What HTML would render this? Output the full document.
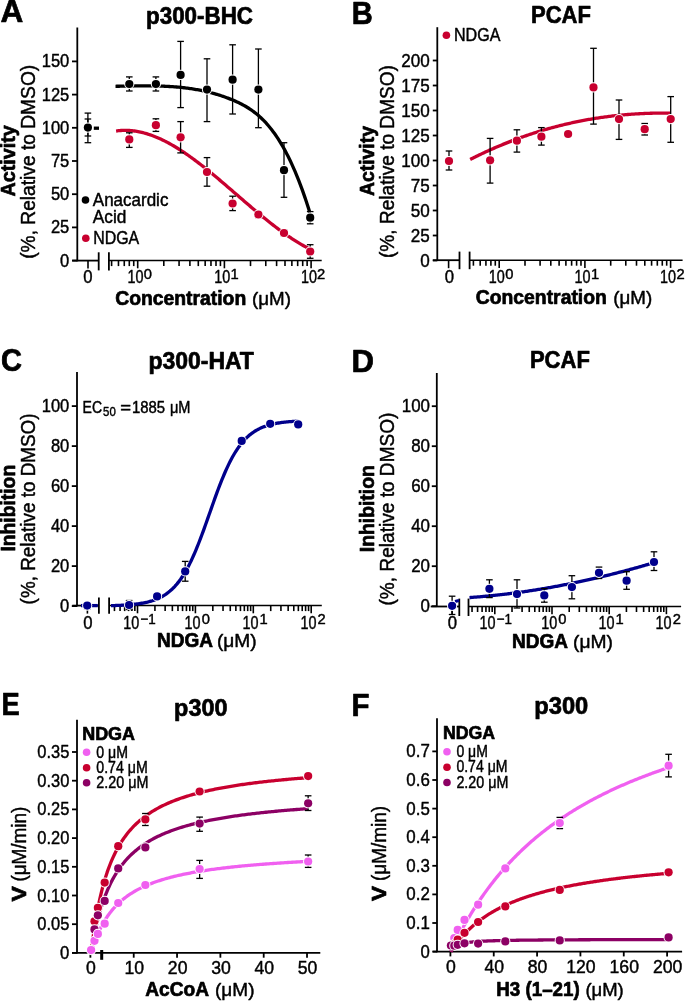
<!DOCTYPE html><html><head><meta charset="utf-8"><style>html,body{margin:0;padding:0;background:#fff;width:685px;height:1001px;overflow:hidden}svg{display:block;will-change:transform}text{font-family:"Liberation Sans",sans-serif}</style></head><body>
<svg width="685" height="1001" viewBox="0 0 685 1001">
<rect width="685" height="1001" fill="#fff"/>
<text x="0.60" y="22.00" font-size="30.5" font-weight="bold" textLength="22.80" lengthAdjust="spacingAndGlyphs" stroke="#000" stroke-width="0.7" stroke-linejoin="round">A</text>
<text x="146.00" y="24.10" font-size="24" font-weight="bold" textLength="107.00" lengthAdjust="spacingAndGlyphs" stroke="#000" stroke-width="0.7" stroke-linejoin="round">p300-BHC</text>
<line x1="77.30" y1="27.50" x2="77.30" y2="261.30" stroke="#000" stroke-width="1.8" stroke-linecap="butt"/>
<line x1="72.00" y1="260.60" x2="77.30" y2="260.60" stroke="#000" stroke-width="1.8" stroke-linecap="butt"/>
<text x="69.30" y="266.60" font-size="19" text-anchor="end" textLength="9.20" lengthAdjust="spacingAndGlyphs" stroke="#000" stroke-width="0.45" stroke-linejoin="round">0</text>
<line x1="72.00" y1="227.40" x2="77.30" y2="227.40" stroke="#000" stroke-width="1.8" stroke-linecap="butt"/>
<text x="69.30" y="233.40" font-size="19" text-anchor="end" textLength="18.40" lengthAdjust="spacingAndGlyphs" stroke="#000" stroke-width="0.45" stroke-linejoin="round">25</text>
<line x1="72.00" y1="194.20" x2="77.30" y2="194.20" stroke="#000" stroke-width="1.8" stroke-linecap="butt"/>
<text x="69.30" y="200.20" font-size="19" text-anchor="end" textLength="18.40" lengthAdjust="spacingAndGlyphs" stroke="#000" stroke-width="0.45" stroke-linejoin="round">50</text>
<line x1="72.00" y1="161.00" x2="77.30" y2="161.00" stroke="#000" stroke-width="1.8" stroke-linecap="butt"/>
<text x="69.30" y="167.00" font-size="19" text-anchor="end" textLength="18.40" lengthAdjust="spacingAndGlyphs" stroke="#000" stroke-width="0.45" stroke-linejoin="round">75</text>
<line x1="72.00" y1="127.80" x2="77.30" y2="127.80" stroke="#000" stroke-width="1.8" stroke-linecap="butt"/>
<text x="69.30" y="133.80" font-size="19" text-anchor="end" textLength="27.60" lengthAdjust="spacingAndGlyphs" stroke="#000" stroke-width="0.45" stroke-linejoin="round">100</text>
<line x1="72.00" y1="94.60" x2="77.30" y2="94.60" stroke="#000" stroke-width="1.8" stroke-linecap="butt"/>
<text x="69.30" y="100.60" font-size="19" text-anchor="end" textLength="27.60" lengthAdjust="spacingAndGlyphs" stroke="#000" stroke-width="0.45" stroke-linejoin="round">125</text>
<line x1="72.00" y1="61.40" x2="77.30" y2="61.40" stroke="#000" stroke-width="1.8" stroke-linecap="butt"/>
<text x="69.30" y="67.40" font-size="19" text-anchor="end" textLength="27.60" lengthAdjust="spacingAndGlyphs" stroke="#000" stroke-width="0.45" stroke-linejoin="round">150</text>
<text x="14.80" y="196.40" font-size="20" font-weight="bold" textLength="71.20" lengthAdjust="spacingAndGlyphs" transform="rotate(-90 14.80 196.40)" stroke="#000" stroke-width="0.7" stroke-linejoin="round">Activity</text>
<text x="34.60" y="258.80" font-size="19.5" textLength="194.00" lengthAdjust="spacingAndGlyphs" transform="rotate(-90 34.60 258.80)" stroke="#000" stroke-width="0.45" stroke-linejoin="round">(%, Relative to DMSO)</text>
<line x1="72.30" y1="260.60" x2="98.90" y2="260.60" stroke="#000" stroke-width="1.8" stroke-linecap="butt"/>
<line x1="98.70" y1="252.30" x2="98.70" y2="270.40" stroke="#000" stroke-width="1.8" stroke-linecap="butt"/>
<line x1="108.90" y1="252.30" x2="108.90" y2="270.40" stroke="#000" stroke-width="1.8" stroke-linecap="butt"/>
<line x1="109.00" y1="260.60" x2="321.70" y2="260.60" stroke="#000" stroke-width="1.5" stroke-linecap="butt"/>
<line x1="111.60" y1="260.60" x2="111.60" y2="266.10" stroke="#000" stroke-width="1.6" stroke-linecap="butt"/>
<line x1="118.47" y1="260.60" x2="118.47" y2="266.10" stroke="#000" stroke-width="1.6" stroke-linecap="butt"/>
<line x1="124.27" y1="260.60" x2="124.27" y2="266.10" stroke="#000" stroke-width="1.6" stroke-linecap="butt"/>
<line x1="129.30" y1="260.60" x2="129.30" y2="266.10" stroke="#000" stroke-width="1.6" stroke-linecap="butt"/>
<line x1="133.73" y1="260.60" x2="133.73" y2="266.10" stroke="#000" stroke-width="1.6" stroke-linecap="butt"/>
<line x1="137.70" y1="260.60" x2="137.70" y2="268.30" stroke="#000" stroke-width="1.6" stroke-linecap="butt"/>
<line x1="163.80" y1="260.60" x2="163.80" y2="266.10" stroke="#000" stroke-width="1.6" stroke-linecap="butt"/>
<line x1="179.07" y1="260.60" x2="179.07" y2="266.10" stroke="#000" stroke-width="1.6" stroke-linecap="butt"/>
<line x1="189.90" y1="260.60" x2="189.90" y2="266.10" stroke="#000" stroke-width="1.6" stroke-linecap="butt"/>
<line x1="198.30" y1="260.60" x2="198.30" y2="266.10" stroke="#000" stroke-width="1.6" stroke-linecap="butt"/>
<line x1="205.17" y1="260.60" x2="205.17" y2="266.10" stroke="#000" stroke-width="1.6" stroke-linecap="butt"/>
<line x1="210.97" y1="260.60" x2="210.97" y2="266.10" stroke="#000" stroke-width="1.6" stroke-linecap="butt"/>
<line x1="216.00" y1="260.60" x2="216.00" y2="266.10" stroke="#000" stroke-width="1.6" stroke-linecap="butt"/>
<line x1="220.43" y1="260.60" x2="220.43" y2="266.10" stroke="#000" stroke-width="1.6" stroke-linecap="butt"/>
<line x1="224.40" y1="260.60" x2="224.40" y2="268.30" stroke="#000" stroke-width="1.6" stroke-linecap="butt"/>
<line x1="250.50" y1="260.60" x2="250.50" y2="266.10" stroke="#000" stroke-width="1.6" stroke-linecap="butt"/>
<line x1="265.77" y1="260.60" x2="265.77" y2="266.10" stroke="#000" stroke-width="1.6" stroke-linecap="butt"/>
<line x1="276.60" y1="260.60" x2="276.60" y2="266.10" stroke="#000" stroke-width="1.6" stroke-linecap="butt"/>
<line x1="285.00" y1="260.60" x2="285.00" y2="266.10" stroke="#000" stroke-width="1.6" stroke-linecap="butt"/>
<line x1="291.87" y1="260.60" x2="291.87" y2="266.10" stroke="#000" stroke-width="1.6" stroke-linecap="butt"/>
<line x1="297.67" y1="260.60" x2="297.67" y2="266.10" stroke="#000" stroke-width="1.6" stroke-linecap="butt"/>
<line x1="302.70" y1="260.60" x2="302.70" y2="266.10" stroke="#000" stroke-width="1.6" stroke-linecap="butt"/>
<line x1="307.13" y1="260.60" x2="307.13" y2="266.10" stroke="#000" stroke-width="1.6" stroke-linecap="butt"/>
<line x1="311.10" y1="260.60" x2="311.10" y2="268.30" stroke="#000" stroke-width="1.6" stroke-linecap="butt"/>
<line x1="88.00" y1="260.60" x2="88.00" y2="268.60" stroke="#000" stroke-width="1.6" stroke-linecap="butt"/>
<text x="88.00" y="283.00" font-size="19" text-anchor="middle" textLength="9.30" lengthAdjust="spacingAndGlyphs" stroke="#000" stroke-width="0.45" stroke-linejoin="round">0</text>
<text x="127.50" y="283.40" font-size="19" textLength="16.00" lengthAdjust="spacingAndGlyphs" stroke="#000" stroke-width="0.45" stroke-linejoin="round">10</text>
<text x="143.70" y="279.00" font-size="15" textLength="8.20" lengthAdjust="spacingAndGlyphs" stroke="#000" stroke-width="0.45" stroke-linejoin="round">0</text>
<text x="214.20" y="283.40" font-size="19" textLength="16.00" lengthAdjust="spacingAndGlyphs" stroke="#000" stroke-width="0.45" stroke-linejoin="round">10</text>
<text x="230.40" y="279.00" font-size="15" textLength="8.20" lengthAdjust="spacingAndGlyphs" stroke="#000" stroke-width="0.45" stroke-linejoin="round">1</text>
<text x="300.90" y="283.40" font-size="19" textLength="16.00" lengthAdjust="spacingAndGlyphs" stroke="#000" stroke-width="0.45" stroke-linejoin="round">10</text>
<text x="317.10" y="279.00" font-size="15" textLength="8.20" lengthAdjust="spacingAndGlyphs" stroke="#000" stroke-width="0.45" stroke-linejoin="round">2</text>
<text x="115.20" y="305.00" font-size="19.5" font-weight="bold" textLength="131.00" lengthAdjust="spacingAndGlyphs" stroke="#000" stroke-width="0.7" stroke-linejoin="round">Concentration</text>
<text x="252.00" y="305.00" font-size="18.5" textLength="39.00" lengthAdjust="spacingAndGlyphs" stroke="#000" stroke-width="0.45" stroke-linejoin="round">(μM)</text>
<circle cx="85.50" cy="200.00" r="3.80" fill="#000"/>
<text x="92.80" y="206.20" font-size="17.5" textLength="75.60" lengthAdjust="spacingAndGlyphs" stroke="#000" stroke-width="0.45" stroke-linejoin="round">Anacardic</text>
<text x="92.80" y="222.70" font-size="17.5" textLength="33.60" lengthAdjust="spacingAndGlyphs" stroke="#000" stroke-width="0.45" stroke-linejoin="round">Acid</text>
<circle cx="85.80" cy="238.20" r="3.80" fill="#C8002F"/>
<text x="93.20" y="244.10" font-size="17.5" textLength="46.00" lengthAdjust="spacingAndGlyphs" stroke="#000" stroke-width="0.45" stroke-linejoin="round">NDGA</text>
<line x1="93.80" y1="128.20" x2="99.00" y2="128.20" stroke="#000" stroke-width="3.3" stroke-linecap="butt"/>
<path d="M116.10,131.02 L117.32,130.86 L118.54,130.71 L119.76,130.60 L120.98,130.50 L122.20,130.44 L123.42,130.39 L124.64,130.37 L125.86,130.37 L127.08,130.39 L128.30,130.44 L129.52,130.51 L130.74,130.60 L131.96,130.71 L133.18,130.85 L134.40,131.01 L135.62,131.18 L136.84,131.38 L138.06,131.60 L139.28,131.84 L140.50,132.10 L141.72,132.38 L142.94,132.68 L144.16,133.00 L145.38,133.33 L146.60,133.69 L147.82,134.07 L149.04,134.46 L150.26,134.87 L151.48,135.30 L152.70,135.75 L153.92,136.21 L155.14,136.69 L156.36,137.19 L157.58,137.71 L158.80,138.24 L160.02,138.79 L161.24,139.35 L162.46,139.93 L163.68,140.52 L164.91,141.13 L166.13,141.76 L167.35,142.40 L168.57,143.05 L169.79,143.72 L171.01,144.40 L172.23,145.09 L173.45,145.80 L174.67,146.52 L175.89,147.26 L177.11,148.01 L178.33,148.77 L179.55,149.54 L180.77,150.32 L181.99,151.11 L183.21,151.92 L184.43,152.74 L185.65,153.57 L186.87,154.41 L188.09,155.25 L189.31,156.11 L190.53,156.98 L191.75,157.86 L192.97,158.75 L194.19,159.65 L195.41,160.55 L196.63,161.47 L197.85,162.39 L199.07,163.32 L200.29,164.26 L201.51,165.20 L202.73,166.16 L203.95,167.12 L205.17,168.09 L206.39,169.06 L207.61,170.04 L208.83,171.03 L210.05,172.02 L211.27,173.02 L212.49,174.02 L213.71,175.03 L214.93,176.04 L216.15,177.06 L217.37,178.08 L218.59,179.10 L219.81,180.13 L221.03,181.17 L222.25,182.20 L223.47,183.24 L224.69,184.28 L225.91,185.33 L227.13,186.38 L228.35,187.42 L229.57,188.48 L230.79,189.53 L232.01,190.58 L233.23,191.64 L234.45,192.69 L235.67,193.75 L236.89,194.80 L238.11,195.86 L239.33,196.92 L240.55,197.97 L241.77,199.03 L242.99,200.08 L244.21,201.13 L245.43,202.18 L246.65,203.23 L247.87,204.28 L249.09,205.33 L250.31,206.37 L251.53,207.41 L252.75,208.44 L253.97,209.48 L255.19,210.51 L256.41,211.54 L257.63,212.56 L258.85,213.58 L260.07,214.59 L261.29,215.60 L262.52,216.60 L263.74,217.60 L264.96,218.59 L266.18,219.58 L267.40,220.56 L268.62,221.54 L269.84,222.51 L271.06,223.47 L272.28,224.42 L273.50,225.37 L274.72,226.31 L275.94,227.24 L277.16,228.17 L278.38,229.08 L279.60,229.99 L280.82,230.89 L282.04,231.78 L283.26,232.66 L284.48,233.53 L285.70,234.39 L286.92,235.24 L288.14,236.08 L289.36,236.91 L290.58,237.73 L291.80,238.54 L293.02,239.34 L294.24,240.12 L295.46,240.90 L296.68,241.66 L297.90,242.41 L299.12,243.14 L300.34,243.87 L301.56,244.58 L302.78,245.28 L304.00,245.96 L305.22,246.63 L306.44,247.29 L307.66,247.93 L308.88,248.56 L310.10,249.17" fill="none" stroke="#C8002F" stroke-width="3.3" stroke-linejoin="round"/>
<path d="M115.50,86.29 L116.72,86.27 L117.94,86.25 L119.17,86.23 L120.39,86.21 L121.61,86.18 L122.83,86.16 L124.05,86.14 L125.28,86.11 L126.50,86.09 L127.72,86.07 L128.94,86.05 L130.16,86.03 L131.39,86.00 L132.61,85.99 L133.83,85.97 L135.05,85.95 L136.27,85.93 L137.50,85.92 L138.72,85.91 L139.94,85.89 L141.16,85.89 L142.38,85.88 L143.61,85.87 L144.83,85.87 L146.05,85.87 L147.27,85.87 L148.49,85.88 L149.72,85.88 L150.94,85.89 L152.16,85.91 L153.38,85.92 L154.60,85.94 L155.83,85.96 L157.05,85.99 L158.27,86.02 L159.49,86.06 L160.71,86.09 L161.94,86.14 L163.16,86.18 L164.38,86.23 L165.60,86.29 L166.82,86.35 L168.05,86.41 L169.27,86.48 L170.49,86.56 L171.71,86.64 L172.93,86.72 L174.16,86.81 L175.38,86.91 L176.60,87.01 L177.82,87.12 L179.04,87.23 L180.27,87.35 L181.49,87.47 L182.71,87.61 L183.93,87.74 L185.15,87.89 L186.38,88.04 L187.60,88.20 L188.82,88.36 L190.04,88.54 L191.26,88.72 L192.49,88.90 L193.71,89.10 L194.93,89.30 L196.15,89.51 L197.37,89.73 L198.60,89.96 L199.82,90.19 L201.04,90.43 L202.26,90.68 L203.48,90.94 L204.71,91.21 L205.93,91.49 L207.15,91.77 L208.37,92.07 L209.59,92.37 L210.82,92.69 L212.04,93.01 L213.26,93.34 L214.48,93.69 L215.71,94.04 L216.93,94.40 L218.15,94.77 L219.37,95.16 L220.59,95.55 L221.82,95.95 L223.04,96.37 L224.26,96.79 L225.48,97.23 L226.70,97.68 L227.93,98.14 L229.15,98.61 L230.37,99.09 L231.59,99.58 L232.81,100.09 L234.04,100.60 L235.26,101.13 L236.48,101.68 L237.70,102.24 L238.92,102.82 L240.15,103.42 L241.37,104.04 L242.59,104.68 L243.81,105.34 L245.03,106.03 L246.26,106.74 L247.48,107.48 L248.70,108.25 L249.92,109.05 L251.14,109.88 L252.37,110.74 L253.59,111.64 L254.81,112.57 L256.03,113.54 L257.25,114.54 L258.48,115.58 L259.70,116.67 L260.92,117.79 L262.14,118.96 L263.36,120.18 L264.59,121.43 L265.81,122.74 L267.03,124.09 L268.25,125.50 L269.47,126.95 L270.70,128.46 L271.92,130.02 L273.14,131.64 L274.36,133.31 L275.58,135.04 L276.81,136.83 L278.03,138.68 L279.25,140.60 L280.47,142.57 L281.69,144.61 L282.92,146.72 L284.14,148.89 L285.36,151.13 L286.58,153.44 L287.80,155.82 L289.03,158.28 L290.25,160.81 L291.47,163.41 L292.69,166.09 L293.91,168.85 L295.14,171.68 L296.36,174.60 L297.58,177.60 L298.80,180.68 L300.02,183.85 L301.25,187.10 L302.47,190.44 L303.69,193.87 L304.91,197.39 L306.13,201.00 L307.36,204.70 L308.58,208.50 L309.80,212.39" fill="none" stroke="#000" stroke-width="3.3" stroke-linejoin="round"/>
<line x1="87.90" y1="113.10" x2="87.90" y2="142.70" stroke="#000" stroke-width="1.3" stroke-linecap="butt"/>
<line x1="84.60" y1="113.10" x2="91.20" y2="113.10" stroke="#000" stroke-width="1.3" stroke-linecap="butt"/>
<line x1="84.60" y1="142.70" x2="91.20" y2="142.70" stroke="#000" stroke-width="1.3" stroke-linecap="butt"/>
<line x1="87.90" y1="119.00" x2="87.90" y2="136.00" stroke="#000" stroke-width="1.3" stroke-linecap="butt"/>
<line x1="84.60" y1="119.00" x2="91.20" y2="119.00" stroke="#000" stroke-width="1.3" stroke-linecap="butt"/>
<line x1="84.60" y1="136.00" x2="91.20" y2="136.00" stroke="#000" stroke-width="1.3" stroke-linecap="butt"/>
<line x1="129.30" y1="76.90" x2="129.30" y2="91.00" stroke="#000" stroke-width="1.3" stroke-linecap="butt"/>
<line x1="126.00" y1="76.90" x2="132.60" y2="76.90" stroke="#000" stroke-width="1.3" stroke-linecap="butt"/>
<line x1="126.00" y1="91.00" x2="132.60" y2="91.00" stroke="#000" stroke-width="1.3" stroke-linecap="butt"/>
<line x1="155.90" y1="76.90" x2="155.90" y2="91.00" stroke="#000" stroke-width="1.3" stroke-linecap="butt"/>
<line x1="152.60" y1="76.90" x2="159.20" y2="76.90" stroke="#000" stroke-width="1.3" stroke-linecap="butt"/>
<line x1="152.60" y1="91.00" x2="159.20" y2="91.00" stroke="#000" stroke-width="1.3" stroke-linecap="butt"/>
<line x1="180.60" y1="41.40" x2="180.60" y2="107.60" stroke="#000" stroke-width="1.3" stroke-linecap="butt"/>
<line x1="177.30" y1="41.40" x2="183.90" y2="41.40" stroke="#000" stroke-width="1.3" stroke-linecap="butt"/>
<line x1="177.30" y1="107.60" x2="183.90" y2="107.60" stroke="#000" stroke-width="1.3" stroke-linecap="butt"/>
<line x1="207.00" y1="58.80" x2="207.00" y2="121.60" stroke="#000" stroke-width="1.3" stroke-linecap="butt"/>
<line x1="203.70" y1="58.80" x2="210.30" y2="58.80" stroke="#000" stroke-width="1.3" stroke-linecap="butt"/>
<line x1="203.70" y1="121.60" x2="210.30" y2="121.60" stroke="#000" stroke-width="1.3" stroke-linecap="butt"/>
<line x1="232.60" y1="44.80" x2="232.60" y2="114.00" stroke="#000" stroke-width="1.3" stroke-linecap="butt"/>
<line x1="229.30" y1="44.80" x2="235.90" y2="44.80" stroke="#000" stroke-width="1.3" stroke-linecap="butt"/>
<line x1="229.30" y1="114.00" x2="235.90" y2="114.00" stroke="#000" stroke-width="1.3" stroke-linecap="butt"/>
<line x1="258.40" y1="49.00" x2="258.40" y2="127.70" stroke="#000" stroke-width="1.3" stroke-linecap="butt"/>
<line x1="255.10" y1="49.00" x2="261.70" y2="49.00" stroke="#000" stroke-width="1.3" stroke-linecap="butt"/>
<line x1="255.10" y1="127.70" x2="261.70" y2="127.70" stroke="#000" stroke-width="1.3" stroke-linecap="butt"/>
<line x1="284.00" y1="142.70" x2="284.00" y2="197.30" stroke="#000" stroke-width="1.3" stroke-linecap="butt"/>
<line x1="280.70" y1="142.70" x2="287.30" y2="142.70" stroke="#000" stroke-width="1.3" stroke-linecap="butt"/>
<line x1="280.70" y1="197.30" x2="287.30" y2="197.30" stroke="#000" stroke-width="1.3" stroke-linecap="butt"/>
<line x1="310.20" y1="211.60" x2="310.20" y2="223.80" stroke="#000" stroke-width="1.3" stroke-linecap="butt"/>
<line x1="306.90" y1="211.60" x2="313.50" y2="211.60" stroke="#000" stroke-width="1.3" stroke-linecap="butt"/>
<line x1="306.90" y1="223.80" x2="313.50" y2="223.80" stroke="#000" stroke-width="1.3" stroke-linecap="butt"/>
<line x1="129.30" y1="132.80" x2="129.30" y2="147.40" stroke="#000" stroke-width="1.3" stroke-linecap="butt"/>
<line x1="126.00" y1="132.80" x2="132.60" y2="132.80" stroke="#000" stroke-width="1.3" stroke-linecap="butt"/>
<line x1="126.00" y1="147.40" x2="132.60" y2="147.40" stroke="#000" stroke-width="1.3" stroke-linecap="butt"/>
<line x1="155.90" y1="118.80" x2="155.90" y2="131.40" stroke="#000" stroke-width="1.3" stroke-linecap="butt"/>
<line x1="152.60" y1="118.80" x2="159.20" y2="118.80" stroke="#000" stroke-width="1.3" stroke-linecap="butt"/>
<line x1="152.60" y1="131.40" x2="159.20" y2="131.40" stroke="#000" stroke-width="1.3" stroke-linecap="butt"/>
<line x1="180.60" y1="121.60" x2="180.60" y2="152.90" stroke="#000" stroke-width="1.3" stroke-linecap="butt"/>
<line x1="177.30" y1="121.60" x2="183.90" y2="121.60" stroke="#000" stroke-width="1.3" stroke-linecap="butt"/>
<line x1="177.30" y1="152.90" x2="183.90" y2="152.90" stroke="#000" stroke-width="1.3" stroke-linecap="butt"/>
<line x1="207.00" y1="157.60" x2="207.00" y2="186.20" stroke="#000" stroke-width="1.3" stroke-linecap="butt"/>
<line x1="203.70" y1="157.60" x2="210.30" y2="157.60" stroke="#000" stroke-width="1.3" stroke-linecap="butt"/>
<line x1="203.70" y1="186.20" x2="210.30" y2="186.20" stroke="#000" stroke-width="1.3" stroke-linecap="butt"/>
<line x1="232.60" y1="196.20" x2="232.60" y2="210.60" stroke="#000" stroke-width="1.3" stroke-linecap="butt"/>
<line x1="229.30" y1="196.20" x2="235.90" y2="196.20" stroke="#000" stroke-width="1.3" stroke-linecap="butt"/>
<line x1="229.30" y1="210.60" x2="235.90" y2="210.60" stroke="#000" stroke-width="1.3" stroke-linecap="butt"/>
<line x1="258.40" y1="211.60" x2="258.40" y2="217.60" stroke="#000" stroke-width="1.3" stroke-linecap="butt"/>
<line x1="255.10" y1="211.60" x2="261.70" y2="211.60" stroke="#000" stroke-width="1.3" stroke-linecap="butt"/>
<line x1="255.10" y1="217.60" x2="261.70" y2="217.60" stroke="#000" stroke-width="1.3" stroke-linecap="butt"/>
<line x1="284.00" y1="230.00" x2="284.00" y2="236.00" stroke="#000" stroke-width="1.3" stroke-linecap="butt"/>
<line x1="280.70" y1="230.00" x2="287.30" y2="230.00" stroke="#000" stroke-width="1.3" stroke-linecap="butt"/>
<line x1="280.70" y1="236.00" x2="287.30" y2="236.00" stroke="#000" stroke-width="1.3" stroke-linecap="butt"/>
<line x1="310.20" y1="244.70" x2="310.20" y2="258.30" stroke="#000" stroke-width="1.3" stroke-linecap="butt"/>
<line x1="306.90" y1="244.70" x2="313.50" y2="244.70" stroke="#000" stroke-width="1.3" stroke-linecap="butt"/>
<line x1="306.90" y1="258.30" x2="313.50" y2="258.30" stroke="#000" stroke-width="1.3" stroke-linecap="butt"/>
<circle cx="87.90" cy="127.60" r="4.10" fill="#000" stroke="#fff" stroke-width="2.00" paint-order="stroke"/>
<circle cx="129.30" cy="139.40" r="4.10" fill="#C8002F" stroke="#fff" stroke-width="2.00" paint-order="stroke"/>
<circle cx="155.90" cy="125.20" r="4.10" fill="#C8002F" stroke="#fff" stroke-width="2.00" paint-order="stroke"/>
<circle cx="180.60" cy="137.30" r="4.10" fill="#C8002F" stroke="#fff" stroke-width="2.00" paint-order="stroke"/>
<circle cx="207.00" cy="172.00" r="4.10" fill="#C8002F" stroke="#fff" stroke-width="2.00" paint-order="stroke"/>
<circle cx="232.60" cy="203.50" r="4.10" fill="#C8002F" stroke="#fff" stroke-width="2.00" paint-order="stroke"/>
<circle cx="258.40" cy="214.50" r="4.10" fill="#C8002F" stroke="#fff" stroke-width="2.00" paint-order="stroke"/>
<circle cx="284.00" cy="233.00" r="4.10" fill="#C8002F" stroke="#fff" stroke-width="2.00" paint-order="stroke"/>
<circle cx="310.20" cy="251.50" r="4.10" fill="#C8002F" stroke="#fff" stroke-width="2.00" paint-order="stroke"/>
<circle cx="129.30" cy="84.00" r="4.10" fill="#000" stroke="#fff" stroke-width="2.00" paint-order="stroke"/>
<circle cx="155.90" cy="84.00" r="4.10" fill="#000" stroke="#fff" stroke-width="2.00" paint-order="stroke"/>
<circle cx="180.60" cy="74.90" r="4.10" fill="#000" stroke="#fff" stroke-width="2.00" paint-order="stroke"/>
<circle cx="207.00" cy="89.60" r="4.10" fill="#000" stroke="#fff" stroke-width="2.00" paint-order="stroke"/>
<circle cx="232.60" cy="79.70" r="4.10" fill="#000" stroke="#fff" stroke-width="2.00" paint-order="stroke"/>
<circle cx="258.40" cy="89.60" r="4.10" fill="#000" stroke="#fff" stroke-width="2.00" paint-order="stroke"/>
<circle cx="284.00" cy="170.20" r="4.10" fill="#000" stroke="#fff" stroke-width="2.00" paint-order="stroke"/>
<circle cx="310.20" cy="217.70" r="4.10" fill="#000" stroke="#fff" stroke-width="2.00" paint-order="stroke"/>
<text x="351.80" y="23.70" font-size="30.5" font-weight="bold" textLength="21.00" lengthAdjust="spacingAndGlyphs" stroke="#000" stroke-width="0.7" stroke-linejoin="round">B</text>
<text x="531.00" y="23.40" font-size="24" font-weight="bold" textLength="60.00" lengthAdjust="spacingAndGlyphs" stroke="#000" stroke-width="0.7" stroke-linejoin="round">PCAF</text>
<line x1="437.30" y1="27.20" x2="437.30" y2="261.00" stroke="#000" stroke-width="1.8" stroke-linecap="butt"/>
<line x1="432.80" y1="260.50" x2="437.30" y2="260.50" stroke="#000" stroke-width="1.8" stroke-linecap="butt"/>
<text x="429.80" y="266.50" font-size="19" text-anchor="end" textLength="9.50" lengthAdjust="spacingAndGlyphs" stroke="#000" stroke-width="0.45" stroke-linejoin="round">0</text>
<line x1="432.80" y1="235.50" x2="437.30" y2="235.50" stroke="#000" stroke-width="1.8" stroke-linecap="butt"/>
<text x="429.80" y="241.50" font-size="19" text-anchor="end" textLength="19.00" lengthAdjust="spacingAndGlyphs" stroke="#000" stroke-width="0.45" stroke-linejoin="round">25</text>
<line x1="432.80" y1="210.50" x2="437.30" y2="210.50" stroke="#000" stroke-width="1.8" stroke-linecap="butt"/>
<text x="429.80" y="216.50" font-size="19" text-anchor="end" textLength="19.00" lengthAdjust="spacingAndGlyphs" stroke="#000" stroke-width="0.45" stroke-linejoin="round">50</text>
<line x1="432.80" y1="185.50" x2="437.30" y2="185.50" stroke="#000" stroke-width="1.8" stroke-linecap="butt"/>
<text x="429.80" y="191.50" font-size="19" text-anchor="end" textLength="19.00" lengthAdjust="spacingAndGlyphs" stroke="#000" stroke-width="0.45" stroke-linejoin="round">75</text>
<line x1="432.80" y1="160.50" x2="437.30" y2="160.50" stroke="#000" stroke-width="1.8" stroke-linecap="butt"/>
<text x="429.80" y="166.50" font-size="19" text-anchor="end" textLength="28.50" lengthAdjust="spacingAndGlyphs" stroke="#000" stroke-width="0.45" stroke-linejoin="round">100</text>
<line x1="432.80" y1="135.50" x2="437.30" y2="135.50" stroke="#000" stroke-width="1.8" stroke-linecap="butt"/>
<text x="429.80" y="141.50" font-size="19" text-anchor="end" textLength="28.50" lengthAdjust="spacingAndGlyphs" stroke="#000" stroke-width="0.45" stroke-linejoin="round">125</text>
<line x1="432.80" y1="110.50" x2="437.30" y2="110.50" stroke="#000" stroke-width="1.8" stroke-linecap="butt"/>
<text x="429.80" y="116.50" font-size="19" text-anchor="end" textLength="28.50" lengthAdjust="spacingAndGlyphs" stroke="#000" stroke-width="0.45" stroke-linejoin="round">150</text>
<line x1="432.80" y1="85.50" x2="437.30" y2="85.50" stroke="#000" stroke-width="1.8" stroke-linecap="butt"/>
<text x="429.80" y="91.50" font-size="19" text-anchor="end" textLength="28.50" lengthAdjust="spacingAndGlyphs" stroke="#000" stroke-width="0.45" stroke-linejoin="round">175</text>
<line x1="432.80" y1="60.50" x2="437.30" y2="60.50" stroke="#000" stroke-width="1.8" stroke-linecap="butt"/>
<text x="429.80" y="66.50" font-size="19" text-anchor="end" textLength="28.50" lengthAdjust="spacingAndGlyphs" stroke="#000" stroke-width="0.45" stroke-linejoin="round">200</text>
<text x="374.20" y="196.00" font-size="20" font-weight="bold" textLength="70.00" lengthAdjust="spacingAndGlyphs" transform="rotate(-90 374.20 196.00)" stroke="#000" stroke-width="0.7" stroke-linejoin="round">Activity</text>
<text x="394.20" y="258.00" font-size="19.5" textLength="193.00" lengthAdjust="spacingAndGlyphs" transform="rotate(-90 394.20 258.00)" stroke="#000" stroke-width="0.45" stroke-linejoin="round">(%, Relative to DMSO)</text>
<line x1="432.80" y1="260.20" x2="459.40" y2="260.20" stroke="#000" stroke-width="1.8" stroke-linecap="butt"/>
<line x1="459.50" y1="251.60" x2="459.50" y2="269.20" stroke="#000" stroke-width="1.8" stroke-linecap="butt"/>
<line x1="469.60" y1="251.60" x2="469.60" y2="269.20" stroke="#000" stroke-width="1.8" stroke-linecap="butt"/>
<line x1="469.60" y1="260.20" x2="682.60" y2="260.20" stroke="#000" stroke-width="1.5" stroke-linecap="butt"/>
<line x1="473.40" y1="260.20" x2="473.40" y2="265.70" stroke="#000" stroke-width="1.6" stroke-linecap="butt"/>
<line x1="480.19" y1="260.20" x2="480.19" y2="265.70" stroke="#000" stroke-width="1.6" stroke-linecap="butt"/>
<line x1="485.92" y1="260.20" x2="485.92" y2="265.70" stroke="#000" stroke-width="1.6" stroke-linecap="butt"/>
<line x1="490.89" y1="260.20" x2="490.89" y2="265.70" stroke="#000" stroke-width="1.6" stroke-linecap="butt"/>
<line x1="495.28" y1="260.20" x2="495.28" y2="265.70" stroke="#000" stroke-width="1.6" stroke-linecap="butt"/>
<line x1="499.20" y1="260.20" x2="499.20" y2="267.90" stroke="#000" stroke-width="1.6" stroke-linecap="butt"/>
<line x1="525.00" y1="260.20" x2="525.00" y2="265.70" stroke="#000" stroke-width="1.6" stroke-linecap="butt"/>
<line x1="540.09" y1="260.20" x2="540.09" y2="265.70" stroke="#000" stroke-width="1.6" stroke-linecap="butt"/>
<line x1="550.80" y1="260.20" x2="550.80" y2="265.70" stroke="#000" stroke-width="1.6" stroke-linecap="butt"/>
<line x1="559.10" y1="260.20" x2="559.10" y2="265.70" stroke="#000" stroke-width="1.6" stroke-linecap="butt"/>
<line x1="565.89" y1="260.20" x2="565.89" y2="265.70" stroke="#000" stroke-width="1.6" stroke-linecap="butt"/>
<line x1="571.62" y1="260.20" x2="571.62" y2="265.70" stroke="#000" stroke-width="1.6" stroke-linecap="butt"/>
<line x1="576.59" y1="260.20" x2="576.59" y2="265.70" stroke="#000" stroke-width="1.6" stroke-linecap="butt"/>
<line x1="580.98" y1="260.20" x2="580.98" y2="265.70" stroke="#000" stroke-width="1.6" stroke-linecap="butt"/>
<line x1="584.90" y1="260.20" x2="584.90" y2="267.90" stroke="#000" stroke-width="1.6" stroke-linecap="butt"/>
<line x1="610.70" y1="260.20" x2="610.70" y2="265.70" stroke="#000" stroke-width="1.6" stroke-linecap="butt"/>
<line x1="625.79" y1="260.20" x2="625.79" y2="265.70" stroke="#000" stroke-width="1.6" stroke-linecap="butt"/>
<line x1="636.50" y1="260.20" x2="636.50" y2="265.70" stroke="#000" stroke-width="1.6" stroke-linecap="butt"/>
<line x1="644.80" y1="260.20" x2="644.80" y2="265.70" stroke="#000" stroke-width="1.6" stroke-linecap="butt"/>
<line x1="651.59" y1="260.20" x2="651.59" y2="265.70" stroke="#000" stroke-width="1.6" stroke-linecap="butt"/>
<line x1="657.32" y1="260.20" x2="657.32" y2="265.70" stroke="#000" stroke-width="1.6" stroke-linecap="butt"/>
<line x1="662.29" y1="260.20" x2="662.29" y2="265.70" stroke="#000" stroke-width="1.6" stroke-linecap="butt"/>
<line x1="666.68" y1="260.20" x2="666.68" y2="265.70" stroke="#000" stroke-width="1.6" stroke-linecap="butt"/>
<line x1="670.60" y1="260.20" x2="670.60" y2="267.90" stroke="#000" stroke-width="1.6" stroke-linecap="butt"/>
<line x1="448.60" y1="260.20" x2="448.60" y2="268.20" stroke="#000" stroke-width="1.6" stroke-linecap="butt"/>
<text x="449.40" y="283.00" font-size="19" text-anchor="middle" textLength="9.30" lengthAdjust="spacingAndGlyphs" stroke="#000" stroke-width="0.45" stroke-linejoin="round">0</text>
<text x="488.70" y="283.30" font-size="19" textLength="16.00" lengthAdjust="spacingAndGlyphs" stroke="#000" stroke-width="0.45" stroke-linejoin="round">10</text>
<text x="505.20" y="278.80" font-size="15" textLength="8.20" lengthAdjust="spacingAndGlyphs" stroke="#000" stroke-width="0.45" stroke-linejoin="round">0</text>
<text x="574.40" y="283.30" font-size="19" textLength="16.00" lengthAdjust="spacingAndGlyphs" stroke="#000" stroke-width="0.45" stroke-linejoin="round">10</text>
<text x="590.90" y="278.80" font-size="15" textLength="8.20" lengthAdjust="spacingAndGlyphs" stroke="#000" stroke-width="0.45" stroke-linejoin="round">1</text>
<text x="660.10" y="283.30" font-size="19" textLength="16.00" lengthAdjust="spacingAndGlyphs" stroke="#000" stroke-width="0.45" stroke-linejoin="round">10</text>
<text x="676.60" y="278.80" font-size="15" textLength="8.20" lengthAdjust="spacingAndGlyphs" stroke="#000" stroke-width="0.45" stroke-linejoin="round">2</text>
<text x="475.80" y="304.00" font-size="19.5" font-weight="bold" textLength="131.00" lengthAdjust="spacingAndGlyphs" stroke="#000" stroke-width="0.7" stroke-linejoin="round">Concentration</text>
<text x="613.20" y="304.00" font-size="18.5" textLength="39.00" lengthAdjust="spacingAndGlyphs" stroke="#000" stroke-width="0.45" stroke-linejoin="round">(μM)</text>
<circle cx="446.40" cy="35.20" r="3.80" fill="#C8002F"/>
<text x="454.00" y="41.30" font-size="17.5" textLength="46.40" lengthAdjust="spacingAndGlyphs" stroke="#000" stroke-width="0.45" stroke-linejoin="round">NDGA</text>
<path d="M470.20,159.47 L471.46,158.83 L472.72,158.19 L473.98,157.56 L475.24,156.94 L476.51,156.32 L477.77,155.70 L479.03,155.09 L480.29,154.48 L481.55,153.88 L482.81,153.29 L484.07,152.69 L485.33,152.11 L486.59,151.53 L487.85,150.95 L489.12,150.38 L490.38,149.81 L491.64,149.25 L492.90,148.69 L494.16,148.13 L495.42,147.59 L496.68,147.04 L497.94,146.50 L499.20,145.97 L500.46,145.44 L501.73,144.91 L502.99,144.39 L504.25,143.88 L505.51,143.37 L506.77,142.86 L508.03,142.36 L509.29,141.86 L510.55,141.37 L511.81,140.88 L513.07,140.40 L514.34,139.92 L515.60,139.45 L516.86,138.98 L518.12,138.51 L519.38,138.05 L520.64,137.60 L521.90,137.14 L523.16,136.70 L524.42,136.26 L525.68,135.82 L526.95,135.38 L528.21,134.96 L529.47,134.53 L530.73,134.11 L531.99,133.70 L533.25,133.29 L534.51,132.88 L535.77,132.48 L537.03,132.08 L538.29,131.69 L539.56,131.30 L540.82,130.91 L542.08,130.53 L543.34,130.16 L544.60,129.79 L545.86,129.42 L547.12,129.06 L548.38,128.70 L549.64,128.35 L550.90,128.00 L552.17,127.65 L553.43,127.31 L554.69,126.98 L555.95,126.64 L557.21,126.32 L558.47,125.99 L559.73,125.67 L560.99,125.36 L562.25,125.05 L563.51,124.74 L564.78,124.44 L566.04,124.14 L567.30,123.85 L568.56,123.56 L569.82,123.27 L571.08,122.99 L572.34,122.71 L573.60,122.44 L574.86,122.17 L576.12,121.91 L577.39,121.64 L578.65,121.39 L579.91,121.14 L581.17,120.89 L582.43,120.64 L583.69,120.40 L584.95,120.17 L586.21,119.93 L587.47,119.71 L588.73,119.48 L590.00,119.26 L591.26,119.05 L592.52,118.84 L593.78,118.63 L595.04,118.42 L596.30,118.22 L597.56,118.03 L598.82,117.84 L600.08,117.65 L601.34,117.46 L602.61,117.28 L603.87,117.11 L605.13,116.94 L606.39,116.77 L607.65,116.60 L608.91,116.44 L610.17,116.29 L611.43,116.13 L612.69,115.98 L613.95,115.84 L615.22,115.70 L616.48,115.56 L617.74,115.43 L619.00,115.30 L620.26,115.17 L621.52,115.05 L622.78,114.93 L624.04,114.82 L625.30,114.71 L626.56,114.60 L627.83,114.50 L629.09,114.40 L630.35,114.30 L631.61,114.21 L632.87,114.12 L634.13,114.04 L635.39,113.96 L636.65,113.88 L637.91,113.81 L639.17,113.74 L640.44,113.67 L641.70,113.61 L642.96,113.55 L644.22,113.49 L645.48,113.44 L646.74,113.39 L648.00,113.35 L649.26,113.31 L650.52,113.27 L651.78,113.24 L653.05,113.21 L654.31,113.18 L655.57,113.16 L656.83,113.14 L658.09,113.12 L659.35,113.11 L660.61,113.10 L661.87,113.10 L663.13,113.09 L664.39,113.10 L665.66,113.10 L666.92,113.11 L668.18,113.12 L669.44,113.14 L670.70,113.16" fill="none" stroke="#C8002F" stroke-width="3.3" stroke-linejoin="round"/>
<line x1="449.00" y1="151.00" x2="449.00" y2="170.00" stroke="#000" stroke-width="1.3" stroke-linecap="butt"/>
<line x1="445.70" y1="151.00" x2="452.30" y2="151.00" stroke="#000" stroke-width="1.3" stroke-linecap="butt"/>
<line x1="445.70" y1="170.00" x2="452.30" y2="170.00" stroke="#000" stroke-width="1.3" stroke-linecap="butt"/>
<line x1="490.10" y1="138.40" x2="490.10" y2="183.10" stroke="#000" stroke-width="1.3" stroke-linecap="butt"/>
<line x1="486.80" y1="138.40" x2="493.40" y2="138.40" stroke="#000" stroke-width="1.3" stroke-linecap="butt"/>
<line x1="486.80" y1="183.10" x2="493.40" y2="183.10" stroke="#000" stroke-width="1.3" stroke-linecap="butt"/>
<line x1="516.90" y1="129.80" x2="516.90" y2="152.10" stroke="#000" stroke-width="1.3" stroke-linecap="butt"/>
<line x1="513.60" y1="129.80" x2="520.20" y2="129.80" stroke="#000" stroke-width="1.3" stroke-linecap="butt"/>
<line x1="513.60" y1="152.10" x2="520.20" y2="152.10" stroke="#000" stroke-width="1.3" stroke-linecap="butt"/>
<line x1="541.40" y1="127.60" x2="541.40" y2="145.10" stroke="#000" stroke-width="1.3" stroke-linecap="butt"/>
<line x1="538.10" y1="127.60" x2="544.70" y2="127.60" stroke="#000" stroke-width="1.3" stroke-linecap="butt"/>
<line x1="538.10" y1="145.10" x2="544.70" y2="145.10" stroke="#000" stroke-width="1.3" stroke-linecap="butt"/>
<line x1="593.50" y1="48.30" x2="593.50" y2="124.10" stroke="#000" stroke-width="1.3" stroke-linecap="butt"/>
<line x1="590.20" y1="48.30" x2="596.80" y2="48.30" stroke="#000" stroke-width="1.3" stroke-linecap="butt"/>
<line x1="590.20" y1="124.10" x2="596.80" y2="124.10" stroke="#000" stroke-width="1.3" stroke-linecap="butt"/>
<line x1="619.00" y1="100.00" x2="619.00" y2="139.40" stroke="#000" stroke-width="1.3" stroke-linecap="butt"/>
<line x1="615.70" y1="100.00" x2="622.30" y2="100.00" stroke="#000" stroke-width="1.3" stroke-linecap="butt"/>
<line x1="615.70" y1="139.40" x2="622.30" y2="139.40" stroke="#000" stroke-width="1.3" stroke-linecap="butt"/>
<line x1="644.70" y1="123.50" x2="644.70" y2="135.00" stroke="#000" stroke-width="1.3" stroke-linecap="butt"/>
<line x1="641.40" y1="123.50" x2="648.00" y2="123.50" stroke="#000" stroke-width="1.3" stroke-linecap="butt"/>
<line x1="641.40" y1="135.00" x2="648.00" y2="135.00" stroke="#000" stroke-width="1.3" stroke-linecap="butt"/>
<line x1="670.70" y1="96.60" x2="670.70" y2="142.30" stroke="#000" stroke-width="1.3" stroke-linecap="butt"/>
<line x1="667.40" y1="96.60" x2="674.00" y2="96.60" stroke="#000" stroke-width="1.3" stroke-linecap="butt"/>
<line x1="667.40" y1="142.30" x2="674.00" y2="142.30" stroke="#000" stroke-width="1.3" stroke-linecap="butt"/>
<circle cx="449.00" cy="161.00" r="4.10" fill="#C8002F" stroke="#fff" stroke-width="2.00" paint-order="stroke"/>
<circle cx="490.10" cy="160.30" r="4.10" fill="#C8002F" stroke="#fff" stroke-width="2.00" paint-order="stroke"/>
<circle cx="516.90" cy="140.70" r="4.10" fill="#C8002F" stroke="#fff" stroke-width="2.00" paint-order="stroke"/>
<circle cx="541.40" cy="136.70" r="4.10" fill="#C8002F" stroke="#fff" stroke-width="2.00" paint-order="stroke"/>
<circle cx="568.10" cy="134.00" r="4.10" fill="#C8002F" stroke="#fff" stroke-width="2.00" paint-order="stroke"/>
<circle cx="593.50" cy="87.40" r="4.10" fill="#C8002F" stroke="#fff" stroke-width="2.00" paint-order="stroke"/>
<circle cx="619.00" cy="119.10" r="4.10" fill="#C8002F" stroke="#fff" stroke-width="2.00" paint-order="stroke"/>
<circle cx="644.70" cy="129.20" r="4.10" fill="#C8002F" stroke="#fff" stroke-width="2.00" paint-order="stroke"/>
<circle cx="670.70" cy="119.10" r="4.10" fill="#C8002F" stroke="#fff" stroke-width="2.00" paint-order="stroke"/>
<text x="1.00" y="371.00" font-size="30.5" font-weight="bold" textLength="21.00" lengthAdjust="spacingAndGlyphs" stroke="#000" stroke-width="0.7" stroke-linejoin="round">C</text>
<text x="148.40" y="368.90" font-size="24" font-weight="bold" textLength="105.50" lengthAdjust="spacingAndGlyphs" stroke="#000" stroke-width="0.7" stroke-linejoin="round">p300-HAT</text>
<line x1="77.00" y1="372.00" x2="77.00" y2="606.60" stroke="#000" stroke-width="1.8" stroke-linecap="butt"/>
<line x1="71.80" y1="606.10" x2="77.00" y2="606.10" stroke="#000" stroke-width="1.8" stroke-linecap="butt"/>
<text x="69.30" y="612.10" font-size="19" text-anchor="end" textLength="9.20" lengthAdjust="spacingAndGlyphs" stroke="#000" stroke-width="0.45" stroke-linejoin="round">0</text>
<line x1="71.80" y1="566.10" x2="77.00" y2="566.10" stroke="#000" stroke-width="1.8" stroke-linecap="butt"/>
<text x="69.30" y="572.10" font-size="19" text-anchor="end" textLength="18.40" lengthAdjust="spacingAndGlyphs" stroke="#000" stroke-width="0.45" stroke-linejoin="round">20</text>
<line x1="71.80" y1="526.10" x2="77.00" y2="526.10" stroke="#000" stroke-width="1.8" stroke-linecap="butt"/>
<text x="69.30" y="532.10" font-size="19" text-anchor="end" textLength="18.40" lengthAdjust="spacingAndGlyphs" stroke="#000" stroke-width="0.45" stroke-linejoin="round">40</text>
<line x1="71.80" y1="486.10" x2="77.00" y2="486.10" stroke="#000" stroke-width="1.8" stroke-linecap="butt"/>
<text x="69.30" y="492.10" font-size="19" text-anchor="end" textLength="18.40" lengthAdjust="spacingAndGlyphs" stroke="#000" stroke-width="0.45" stroke-linejoin="round">60</text>
<line x1="71.80" y1="446.10" x2="77.00" y2="446.10" stroke="#000" stroke-width="1.8" stroke-linecap="butt"/>
<text x="69.30" y="452.10" font-size="19" text-anchor="end" textLength="18.40" lengthAdjust="spacingAndGlyphs" stroke="#000" stroke-width="0.45" stroke-linejoin="round">80</text>
<line x1="71.80" y1="406.10" x2="77.00" y2="406.10" stroke="#000" stroke-width="1.8" stroke-linecap="butt"/>
<text x="69.30" y="412.10" font-size="19" text-anchor="end" textLength="27.60" lengthAdjust="spacingAndGlyphs" stroke="#000" stroke-width="0.45" stroke-linejoin="round">100</text>
<text x="15.20" y="551.60" font-size="20" font-weight="bold" textLength="86.80" lengthAdjust="spacingAndGlyphs" transform="rotate(-90 15.20 551.60)" stroke="#000" stroke-width="0.7" stroke-linejoin="round">Inhibition</text>
<text x="34.60" y="604.40" font-size="19.5" textLength="191.00" lengthAdjust="spacingAndGlyphs" transform="rotate(-90 34.60 604.40)" stroke="#000" stroke-width="0.45" stroke-linejoin="round">(%, Relative to DMSO)</text>
<text x="82.60" y="412.80" font-size="16" textLength="19.50" lengthAdjust="spacingAndGlyphs" stroke="#000" stroke-width="0.45" stroke-linejoin="round">EC</text>
<text x="103.10" y="415.80" font-size="13.5" textLength="12.70" lengthAdjust="spacingAndGlyphs" stroke="#000" stroke-width="0.45" stroke-linejoin="round">50</text>
<text x="120.30" y="412.80" font-size="16" textLength="10.80" lengthAdjust="spacingAndGlyphs" stroke="#000" stroke-width="0.45" stroke-linejoin="round">=</text>
<text x="131.90" y="412.80" font-size="16" textLength="33.20" lengthAdjust="spacingAndGlyphs" stroke="#000" stroke-width="0.45" stroke-linejoin="round">1885</text>
<text x="169.90" y="412.80" font-size="16" textLength="20.50" lengthAdjust="spacingAndGlyphs" stroke="#000" stroke-width="0.45" stroke-linejoin="round">μM</text>
<line x1="72.30" y1="605.60" x2="98.90" y2="605.60" stroke="#000" stroke-width="1.8" stroke-linecap="butt"/>
<line x1="98.90" y1="597.40" x2="98.90" y2="613.70" stroke="#000" stroke-width="1.8" stroke-linecap="butt"/>
<line x1="109.10" y1="597.40" x2="109.10" y2="613.70" stroke="#000" stroke-width="1.8" stroke-linecap="butt"/>
<line x1="109.10" y1="605.60" x2="321.80" y2="605.60" stroke="#000" stroke-width="1.5" stroke-linecap="butt"/>
<line x1="114.46" y1="605.60" x2="114.46" y2="611.10" stroke="#000" stroke-width="1.6" stroke-linecap="butt"/>
<line x1="120.07" y1="605.60" x2="120.07" y2="611.10" stroke="#000" stroke-width="1.6" stroke-linecap="butt"/>
<line x1="124.65" y1="605.60" x2="124.65" y2="611.10" stroke="#000" stroke-width="1.6" stroke-linecap="butt"/>
<line x1="128.53" y1="605.60" x2="128.53" y2="611.10" stroke="#000" stroke-width="1.6" stroke-linecap="butt"/>
<line x1="131.89" y1="605.60" x2="131.89" y2="611.10" stroke="#000" stroke-width="1.6" stroke-linecap="butt"/>
<line x1="134.85" y1="605.60" x2="134.85" y2="611.10" stroke="#000" stroke-width="1.6" stroke-linecap="butt"/>
<line x1="137.50" y1="605.60" x2="137.50" y2="613.30" stroke="#000" stroke-width="1.6" stroke-linecap="butt"/>
<line x1="154.93" y1="605.60" x2="154.93" y2="611.10" stroke="#000" stroke-width="1.6" stroke-linecap="butt"/>
<line x1="165.13" y1="605.60" x2="165.13" y2="611.10" stroke="#000" stroke-width="1.6" stroke-linecap="butt"/>
<line x1="172.36" y1="605.60" x2="172.36" y2="611.10" stroke="#000" stroke-width="1.6" stroke-linecap="butt"/>
<line x1="177.97" y1="605.60" x2="177.97" y2="611.10" stroke="#000" stroke-width="1.6" stroke-linecap="butt"/>
<line x1="182.55" y1="605.60" x2="182.55" y2="611.10" stroke="#000" stroke-width="1.6" stroke-linecap="butt"/>
<line x1="186.43" y1="605.60" x2="186.43" y2="611.10" stroke="#000" stroke-width="1.6" stroke-linecap="butt"/>
<line x1="189.79" y1="605.60" x2="189.79" y2="611.10" stroke="#000" stroke-width="1.6" stroke-linecap="butt"/>
<line x1="192.75" y1="605.60" x2="192.75" y2="611.10" stroke="#000" stroke-width="1.6" stroke-linecap="butt"/>
<line x1="195.40" y1="605.60" x2="195.40" y2="613.30" stroke="#000" stroke-width="1.6" stroke-linecap="butt"/>
<line x1="212.83" y1="605.60" x2="212.83" y2="611.10" stroke="#000" stroke-width="1.6" stroke-linecap="butt"/>
<line x1="223.03" y1="605.60" x2="223.03" y2="611.10" stroke="#000" stroke-width="1.6" stroke-linecap="butt"/>
<line x1="230.26" y1="605.60" x2="230.26" y2="611.10" stroke="#000" stroke-width="1.6" stroke-linecap="butt"/>
<line x1="235.87" y1="605.60" x2="235.87" y2="611.10" stroke="#000" stroke-width="1.6" stroke-linecap="butt"/>
<line x1="240.45" y1="605.60" x2="240.45" y2="611.10" stroke="#000" stroke-width="1.6" stroke-linecap="butt"/>
<line x1="244.33" y1="605.60" x2="244.33" y2="611.10" stroke="#000" stroke-width="1.6" stroke-linecap="butt"/>
<line x1="247.69" y1="605.60" x2="247.69" y2="611.10" stroke="#000" stroke-width="1.6" stroke-linecap="butt"/>
<line x1="250.65" y1="605.60" x2="250.65" y2="611.10" stroke="#000" stroke-width="1.6" stroke-linecap="butt"/>
<line x1="253.30" y1="605.60" x2="253.30" y2="613.30" stroke="#000" stroke-width="1.6" stroke-linecap="butt"/>
<line x1="270.73" y1="605.60" x2="270.73" y2="611.10" stroke="#000" stroke-width="1.6" stroke-linecap="butt"/>
<line x1="280.93" y1="605.60" x2="280.93" y2="611.10" stroke="#000" stroke-width="1.6" stroke-linecap="butt"/>
<line x1="288.16" y1="605.60" x2="288.16" y2="611.10" stroke="#000" stroke-width="1.6" stroke-linecap="butt"/>
<line x1="293.77" y1="605.60" x2="293.77" y2="611.10" stroke="#000" stroke-width="1.6" stroke-linecap="butt"/>
<line x1="298.35" y1="605.60" x2="298.35" y2="611.10" stroke="#000" stroke-width="1.6" stroke-linecap="butt"/>
<line x1="302.23" y1="605.60" x2="302.23" y2="611.10" stroke="#000" stroke-width="1.6" stroke-linecap="butt"/>
<line x1="305.59" y1="605.60" x2="305.59" y2="611.10" stroke="#000" stroke-width="1.6" stroke-linecap="butt"/>
<line x1="308.55" y1="605.60" x2="308.55" y2="611.10" stroke="#000" stroke-width="1.6" stroke-linecap="butt"/>
<line x1="311.20" y1="605.60" x2="311.20" y2="613.30" stroke="#000" stroke-width="1.6" stroke-linecap="butt"/>
<line x1="87.40" y1="605.60" x2="87.40" y2="613.60" stroke="#000" stroke-width="1.6" stroke-linecap="butt"/>
<text x="87.80" y="628.50" font-size="19" text-anchor="middle" textLength="9.30" lengthAdjust="spacingAndGlyphs" stroke="#000" stroke-width="0.45" stroke-linejoin="round">0</text>
<text x="123.30" y="628.70" font-size="19" textLength="16.00" lengthAdjust="spacingAndGlyphs" stroke="#000" stroke-width="0.45" stroke-linejoin="round">10</text>
<text x="140.40" y="624.00" font-size="15" textLength="15.30" lengthAdjust="spacingAndGlyphs" stroke="#000" stroke-width="0.45" stroke-linejoin="round">−1</text>
<text x="184.60" y="628.70" font-size="19" textLength="16.00" lengthAdjust="spacingAndGlyphs" stroke="#000" stroke-width="0.45" stroke-linejoin="round">10</text>
<text x="201.70" y="624.00" font-size="15" textLength="8.20" lengthAdjust="spacingAndGlyphs" stroke="#000" stroke-width="0.45" stroke-linejoin="round">0</text>
<text x="242.50" y="628.70" font-size="19" textLength="16.00" lengthAdjust="spacingAndGlyphs" stroke="#000" stroke-width="0.45" stroke-linejoin="round">10</text>
<text x="259.60" y="624.00" font-size="15" textLength="8.20" lengthAdjust="spacingAndGlyphs" stroke="#000" stroke-width="0.45" stroke-linejoin="round">1</text>
<text x="300.40" y="628.70" font-size="19" textLength="16.00" lengthAdjust="spacingAndGlyphs" stroke="#000" stroke-width="0.45" stroke-linejoin="round">10</text>
<text x="317.50" y="624.00" font-size="15" textLength="8.20" lengthAdjust="spacingAndGlyphs" stroke="#000" stroke-width="0.45" stroke-linejoin="round">2</text>
<text x="157.10" y="647.00" font-size="19.5" font-weight="bold" textLength="56.00" lengthAdjust="spacingAndGlyphs" stroke="#000" stroke-width="0.7" stroke-linejoin="round">NDGA</text>
<text x="216.90" y="647.00" font-size="18.5" textLength="39.80" lengthAdjust="spacingAndGlyphs" stroke="#000" stroke-width="0.45" stroke-linejoin="round">(μM)</text>
<line x1="81.00" y1="605.60" x2="97.80" y2="605.60" stroke="#00008C" stroke-width="3.3" stroke-linecap="butt"/>
<path d="M111.00,605.66 L112.18,605.63 L113.36,605.59 L114.54,605.55 L115.72,605.51 L116.90,605.47 L118.08,605.42 L119.25,605.37 L120.43,605.31 L121.61,605.26 L122.79,605.19 L123.97,605.13 L125.15,605.05 L126.33,604.97 L127.51,604.89 L128.69,604.80 L129.87,604.70 L131.05,604.60 L132.23,604.49 L133.41,604.37 L134.58,604.24 L135.76,604.10 L136.94,603.96 L138.12,603.80 L139.30,603.63 L140.48,603.45 L141.66,603.25 L142.84,603.04 L144.02,602.81 L145.20,602.57 L146.38,602.31 L147.56,602.04 L148.74,601.74 L149.92,601.42 L151.09,601.08 L152.27,600.72 L153.45,600.33 L154.63,599.91 L155.81,599.46 L156.99,598.98 L158.17,598.47 L159.35,597.92 L160.53,597.34 L161.71,596.72 L162.89,596.05 L164.07,595.34 L165.25,594.59 L166.42,593.78 L167.60,592.93 L168.78,592.01 L169.96,591.05 L171.14,590.02 L172.32,588.92 L173.50,587.76 L174.68,586.53 L175.86,585.23 L177.04,583.86 L178.22,582.40 L179.40,580.87 L180.58,579.25 L181.75,577.55 L182.93,575.76 L184.11,573.89 L185.29,571.92 L186.47,569.86 L187.65,567.70 L188.83,565.46 L190.01,563.12 L191.19,560.68 L192.37,558.16 L193.55,555.55 L194.73,552.85 L195.91,550.06 L197.08,547.19 L198.26,544.25 L199.44,541.24 L200.62,538.15 L201.80,535.01 L202.98,531.82 L204.16,528.57 L205.34,525.29 L206.52,521.98 L207.70,518.65 L208.88,515.30 L210.06,511.94 L211.24,508.59 L212.42,505.25 L213.59,501.94 L214.77,498.65 L215.95,495.39 L217.13,492.19 L218.31,489.03 L219.49,485.93 L220.67,482.90 L221.85,479.94 L223.03,477.05 L224.21,474.25 L225.39,471.52 L226.57,468.89 L227.75,466.34 L228.92,463.89 L230.10,461.52 L231.28,459.25 L232.46,457.08 L233.64,454.99 L234.82,453.00 L236.00,451.10 L237.18,449.29 L238.36,447.57 L239.54,445.93 L240.72,444.37 L241.90,442.90 L243.08,441.51 L244.25,440.19 L245.43,438.94 L246.61,437.76 L247.79,436.65 L248.97,435.61 L250.15,434.62 L251.33,433.70 L252.51,432.83 L253.69,432.01 L254.87,431.24 L256.05,430.52 L257.23,429.85 L258.41,429.21 L259.58,428.62 L260.76,428.06 L261.94,427.54 L263.12,427.06 L264.30,426.60 L265.48,426.18 L266.66,425.78 L267.84,425.41 L269.02,425.06 L270.20,424.74 L271.38,424.44 L272.56,424.15 L273.74,423.89 L274.92,423.64 L276.09,423.42 L277.27,423.20 L278.45,423.00 L279.63,422.82 L280.81,422.64 L281.99,422.48 L283.17,422.33 L284.35,422.19 L285.53,422.06 L286.71,421.94 L287.89,421.83 L289.07,421.72 L290.25,421.62 L291.42,421.53 L292.60,421.45 L293.78,421.37 L294.96,421.29 L296.14,421.22 L297.32,421.16 L298.50,421.10" fill="none" stroke="#00008C" stroke-width="3.3" stroke-linejoin="round"/>
<line x1="87.20" y1="603.00" x2="87.20" y2="609.00" stroke="#000" stroke-width="1.3" stroke-linecap="butt"/>
<line x1="83.90" y1="603.00" x2="90.50" y2="603.00" stroke="#000" stroke-width="1.3" stroke-linecap="butt"/>
<line x1="83.90" y1="609.00" x2="90.50" y2="609.00" stroke="#000" stroke-width="1.3" stroke-linecap="butt"/>
<line x1="129.10" y1="600.50" x2="129.10" y2="609.50" stroke="#000" stroke-width="1.3" stroke-linecap="butt"/>
<line x1="125.80" y1="600.50" x2="132.40" y2="600.50" stroke="#000" stroke-width="1.3" stroke-linecap="butt"/>
<line x1="125.80" y1="609.50" x2="132.40" y2="609.50" stroke="#000" stroke-width="1.3" stroke-linecap="butt"/>
<line x1="185.20" y1="561.40" x2="185.20" y2="581.20" stroke="#000" stroke-width="1.3" stroke-linecap="butt"/>
<line x1="181.90" y1="561.40" x2="188.50" y2="561.40" stroke="#000" stroke-width="1.3" stroke-linecap="butt"/>
<line x1="181.90" y1="581.20" x2="188.50" y2="581.20" stroke="#000" stroke-width="1.3" stroke-linecap="butt"/>
<circle cx="87.20" cy="605.60" r="4.10" fill="#00008C" stroke="#fff" stroke-width="2.00" paint-order="stroke"/>
<circle cx="129.10" cy="605.00" r="4.10" fill="#00008C" stroke="#fff" stroke-width="2.00" paint-order="stroke"/>
<circle cx="157.10" cy="596.40" r="4.10" fill="#00008C" stroke="#fff" stroke-width="2.00" paint-order="stroke"/>
<circle cx="185.20" cy="571.40" r="4.10" fill="#00008C" stroke="#fff" stroke-width="2.00" paint-order="stroke"/>
<circle cx="241.70" cy="440.90" r="4.10" fill="#00008C" stroke="#fff" stroke-width="2.00" paint-order="stroke"/>
<circle cx="270.20" cy="423.80" r="4.10" fill="#00008C" stroke="#fff" stroke-width="2.00" paint-order="stroke"/>
<circle cx="298.20" cy="424.40" r="4.10" fill="#00008C" stroke="#fff" stroke-width="2.00" paint-order="stroke"/>
<text x="351.60" y="372.00" font-size="30.5" font-weight="bold" textLength="22.50" lengthAdjust="spacingAndGlyphs" stroke="#000" stroke-width="0.7" stroke-linejoin="round">D</text>
<text x="529.90" y="367.70" font-size="24" font-weight="bold" textLength="60.00" lengthAdjust="spacingAndGlyphs" stroke="#000" stroke-width="0.7" stroke-linejoin="round">PCAF</text>
<line x1="436.80" y1="373.00" x2="436.80" y2="606.80" stroke="#000" stroke-width="1.8" stroke-linecap="butt"/>
<line x1="431.80" y1="606.20" x2="436.80" y2="606.20" stroke="#000" stroke-width="1.8" stroke-linecap="butt"/>
<text x="430.00" y="612.20" font-size="19" text-anchor="end" textLength="9.40" lengthAdjust="spacingAndGlyphs" stroke="#000" stroke-width="0.45" stroke-linejoin="round">0</text>
<line x1="431.80" y1="566.20" x2="436.80" y2="566.20" stroke="#000" stroke-width="1.8" stroke-linecap="butt"/>
<text x="430.00" y="572.20" font-size="19" text-anchor="end" textLength="18.80" lengthAdjust="spacingAndGlyphs" stroke="#000" stroke-width="0.45" stroke-linejoin="round">20</text>
<line x1="431.80" y1="526.20" x2="436.80" y2="526.20" stroke="#000" stroke-width="1.8" stroke-linecap="butt"/>
<text x="430.00" y="532.20" font-size="19" text-anchor="end" textLength="18.80" lengthAdjust="spacingAndGlyphs" stroke="#000" stroke-width="0.45" stroke-linejoin="round">40</text>
<line x1="431.80" y1="486.20" x2="436.80" y2="486.20" stroke="#000" stroke-width="1.8" stroke-linecap="butt"/>
<text x="430.00" y="492.20" font-size="19" text-anchor="end" textLength="18.80" lengthAdjust="spacingAndGlyphs" stroke="#000" stroke-width="0.45" stroke-linejoin="round">60</text>
<line x1="431.80" y1="446.20" x2="436.80" y2="446.20" stroke="#000" stroke-width="1.8" stroke-linecap="butt"/>
<text x="430.00" y="452.20" font-size="19" text-anchor="end" textLength="18.80" lengthAdjust="spacingAndGlyphs" stroke="#000" stroke-width="0.45" stroke-linejoin="round">80</text>
<line x1="431.80" y1="406.20" x2="436.80" y2="406.20" stroke="#000" stroke-width="1.8" stroke-linecap="butt"/>
<text x="430.00" y="412.20" font-size="19" text-anchor="end" textLength="28.20" lengthAdjust="spacingAndGlyphs" stroke="#000" stroke-width="0.45" stroke-linejoin="round">100</text>
<text x="374.00" y="552.20" font-size="20" font-weight="bold" textLength="87.00" lengthAdjust="spacingAndGlyphs" transform="rotate(-90 374.00 552.20)" stroke="#000" stroke-width="0.7" stroke-linejoin="round">Inhibition</text>
<text x="394.20" y="605.50" font-size="19.5" textLength="193.00" lengthAdjust="spacingAndGlyphs" transform="rotate(-90 394.20 605.50)" stroke="#000" stroke-width="0.45" stroke-linejoin="round">(%, Relative to DMSO)</text>
<line x1="430.70" y1="606.50" x2="459.30" y2="606.50" stroke="#000" stroke-width="1.8" stroke-linecap="butt"/>
<line x1="459.30" y1="598.60" x2="459.30" y2="616.00" stroke="#000" stroke-width="1.8" stroke-linecap="butt"/>
<line x1="468.50" y1="598.60" x2="468.50" y2="616.00" stroke="#000" stroke-width="1.8" stroke-linecap="butt"/>
<line x1="468.50" y1="606.50" x2="681.10" y2="606.50" stroke="#000" stroke-width="1.5" stroke-linecap="butt"/>
<line x1="472.04" y1="606.50" x2="472.04" y2="612.00" stroke="#000" stroke-width="1.6" stroke-linecap="butt"/>
<line x1="477.58" y1="606.50" x2="477.58" y2="612.00" stroke="#000" stroke-width="1.6" stroke-linecap="butt"/>
<line x1="482.11" y1="606.50" x2="482.11" y2="612.00" stroke="#000" stroke-width="1.6" stroke-linecap="butt"/>
<line x1="485.94" y1="606.50" x2="485.94" y2="612.00" stroke="#000" stroke-width="1.6" stroke-linecap="butt"/>
<line x1="489.26" y1="606.50" x2="489.26" y2="612.00" stroke="#000" stroke-width="1.6" stroke-linecap="butt"/>
<line x1="492.18" y1="606.50" x2="492.18" y2="612.00" stroke="#000" stroke-width="1.6" stroke-linecap="butt"/>
<line x1="494.80" y1="606.50" x2="494.80" y2="614.20" stroke="#000" stroke-width="1.6" stroke-linecap="butt"/>
<line x1="512.02" y1="606.50" x2="512.02" y2="612.00" stroke="#000" stroke-width="1.6" stroke-linecap="butt"/>
<line x1="522.09" y1="606.50" x2="522.09" y2="612.00" stroke="#000" stroke-width="1.6" stroke-linecap="butt"/>
<line x1="529.24" y1="606.50" x2="529.24" y2="612.00" stroke="#000" stroke-width="1.6" stroke-linecap="butt"/>
<line x1="534.78" y1="606.50" x2="534.78" y2="612.00" stroke="#000" stroke-width="1.6" stroke-linecap="butt"/>
<line x1="539.31" y1="606.50" x2="539.31" y2="612.00" stroke="#000" stroke-width="1.6" stroke-linecap="butt"/>
<line x1="543.14" y1="606.50" x2="543.14" y2="612.00" stroke="#000" stroke-width="1.6" stroke-linecap="butt"/>
<line x1="546.46" y1="606.50" x2="546.46" y2="612.00" stroke="#000" stroke-width="1.6" stroke-linecap="butt"/>
<line x1="549.38" y1="606.50" x2="549.38" y2="612.00" stroke="#000" stroke-width="1.6" stroke-linecap="butt"/>
<line x1="552.00" y1="606.50" x2="552.00" y2="614.20" stroke="#000" stroke-width="1.6" stroke-linecap="butt"/>
<line x1="569.22" y1="606.50" x2="569.22" y2="612.00" stroke="#000" stroke-width="1.6" stroke-linecap="butt"/>
<line x1="579.29" y1="606.50" x2="579.29" y2="612.00" stroke="#000" stroke-width="1.6" stroke-linecap="butt"/>
<line x1="586.44" y1="606.50" x2="586.44" y2="612.00" stroke="#000" stroke-width="1.6" stroke-linecap="butt"/>
<line x1="591.98" y1="606.50" x2="591.98" y2="612.00" stroke="#000" stroke-width="1.6" stroke-linecap="butt"/>
<line x1="596.51" y1="606.50" x2="596.51" y2="612.00" stroke="#000" stroke-width="1.6" stroke-linecap="butt"/>
<line x1="600.34" y1="606.50" x2="600.34" y2="612.00" stroke="#000" stroke-width="1.6" stroke-linecap="butt"/>
<line x1="603.66" y1="606.50" x2="603.66" y2="612.00" stroke="#000" stroke-width="1.6" stroke-linecap="butt"/>
<line x1="606.58" y1="606.50" x2="606.58" y2="612.00" stroke="#000" stroke-width="1.6" stroke-linecap="butt"/>
<line x1="609.20" y1="606.50" x2="609.20" y2="614.20" stroke="#000" stroke-width="1.6" stroke-linecap="butt"/>
<line x1="626.42" y1="606.50" x2="626.42" y2="612.00" stroke="#000" stroke-width="1.6" stroke-linecap="butt"/>
<line x1="636.49" y1="606.50" x2="636.49" y2="612.00" stroke="#000" stroke-width="1.6" stroke-linecap="butt"/>
<line x1="643.64" y1="606.50" x2="643.64" y2="612.00" stroke="#000" stroke-width="1.6" stroke-linecap="butt"/>
<line x1="649.18" y1="606.50" x2="649.18" y2="612.00" stroke="#000" stroke-width="1.6" stroke-linecap="butt"/>
<line x1="653.71" y1="606.50" x2="653.71" y2="612.00" stroke="#000" stroke-width="1.6" stroke-linecap="butt"/>
<line x1="657.54" y1="606.50" x2="657.54" y2="612.00" stroke="#000" stroke-width="1.6" stroke-linecap="butt"/>
<line x1="660.86" y1="606.50" x2="660.86" y2="612.00" stroke="#000" stroke-width="1.6" stroke-linecap="butt"/>
<line x1="663.78" y1="606.50" x2="663.78" y2="612.00" stroke="#000" stroke-width="1.6" stroke-linecap="butt"/>
<line x1="666.40" y1="606.50" x2="666.40" y2="614.20" stroke="#000" stroke-width="1.6" stroke-linecap="butt"/>
<line x1="452.10" y1="606.50" x2="452.10" y2="614.50" stroke="#000" stroke-width="1.6" stroke-linecap="butt"/>
<text x="452.30" y="628.70" font-size="19" text-anchor="middle" textLength="9.30" lengthAdjust="spacingAndGlyphs" stroke="#000" stroke-width="0.45" stroke-linejoin="round">0</text>
<text x="479.60" y="629.00" font-size="19" textLength="16.00" lengthAdjust="spacingAndGlyphs" stroke="#000" stroke-width="0.45" stroke-linejoin="round">10</text>
<text x="496.70" y="624.30" font-size="15" textLength="15.30" lengthAdjust="spacingAndGlyphs" stroke="#000" stroke-width="0.45" stroke-linejoin="round">−1</text>
<text x="541.20" y="629.00" font-size="19" textLength="16.00" lengthAdjust="spacingAndGlyphs" stroke="#000" stroke-width="0.45" stroke-linejoin="round">10</text>
<text x="558.30" y="624.30" font-size="15" textLength="8.20" lengthAdjust="spacingAndGlyphs" stroke="#000" stroke-width="0.45" stroke-linejoin="round">0</text>
<text x="598.40" y="629.00" font-size="19" textLength="16.00" lengthAdjust="spacingAndGlyphs" stroke="#000" stroke-width="0.45" stroke-linejoin="round">10</text>
<text x="615.50" y="624.30" font-size="15" textLength="8.20" lengthAdjust="spacingAndGlyphs" stroke="#000" stroke-width="0.45" stroke-linejoin="round">1</text>
<text x="655.60" y="629.00" font-size="19" textLength="16.00" lengthAdjust="spacingAndGlyphs" stroke="#000" stroke-width="0.45" stroke-linejoin="round">10</text>
<text x="672.70" y="624.30" font-size="15" textLength="8.20" lengthAdjust="spacingAndGlyphs" stroke="#000" stroke-width="0.45" stroke-linejoin="round">2</text>
<text x="512.00" y="647.50" font-size="19.5" font-weight="bold" textLength="56.00" lengthAdjust="spacingAndGlyphs" stroke="#000" stroke-width="0.7" stroke-linejoin="round">NDGA</text>
<text x="573.00" y="647.50" font-size="18.5" textLength="40.00" lengthAdjust="spacingAndGlyphs" stroke="#000" stroke-width="0.45" stroke-linejoin="round">(μM)</text>
<path d="M469.50,597.57 L470.65,597.49 L471.80,597.41 L472.94,597.32 L474.09,597.23 L475.24,597.14 L476.39,597.05 L477.53,596.96 L478.68,596.86 L479.83,596.77 L480.98,596.67 L482.13,596.57 L483.27,596.46 L484.42,596.36 L485.57,596.25 L486.72,596.15 L487.86,596.04 L489.01,595.93 L490.16,595.81 L491.31,595.70 L492.46,595.58 L493.60,595.46 L494.75,595.34 L495.90,595.22 L497.05,595.09 L498.19,594.97 L499.34,594.84 L500.49,594.71 L501.64,594.58 L502.79,594.45 L503.93,594.31 L505.08,594.18 L506.23,594.04 L507.38,593.90 L508.53,593.76 L509.67,593.62 L510.82,593.47 L511.97,593.32 L513.12,593.17 L514.26,593.02 L515.41,592.87 L516.56,592.72 L517.71,592.56 L518.86,592.41 L520.00,592.25 L521.15,592.09 L522.30,591.92 L523.45,591.76 L524.59,591.60 L525.74,591.43 L526.89,591.26 L528.04,591.09 L529.19,590.92 L530.33,590.74 L531.48,590.57 L532.63,590.39 L533.78,590.21 L534.92,590.03 L536.07,589.85 L537.22,589.66 L538.37,589.48 L539.52,589.29 L540.66,589.10 L541.81,588.91 L542.96,588.72 L544.11,588.52 L545.25,588.33 L546.40,588.13 L547.55,587.93 L548.70,587.73 L549.85,587.53 L550.99,587.32 L552.14,587.12 L553.29,586.91 L554.44,586.70 L555.58,586.49 L556.73,586.28 L557.88,586.06 L559.03,585.85 L560.18,585.63 L561.32,585.41 L562.47,585.19 L563.62,584.97 L564.77,584.74 L565.92,584.52 L567.06,584.29 L568.21,584.06 L569.36,583.83 L570.51,583.60 L571.65,583.37 L572.80,583.13 L573.95,582.90 L575.10,582.66 L576.25,582.42 L577.39,582.18 L578.54,581.94 L579.69,581.69 L580.84,581.45 L581.98,581.20 L583.13,580.95 L584.28,580.70 L585.43,580.45 L586.58,580.19 L587.72,579.94 L588.87,579.68 L590.02,579.42 L591.17,579.16 L592.31,578.90 L593.46,578.64 L594.61,578.38 L595.76,578.11 L596.91,577.84 L598.05,577.57 L599.20,577.30 L600.35,577.03 L601.50,576.76 L602.64,576.48 L603.79,576.21 L604.94,575.93 L606.09,575.65 L607.24,575.37 L608.38,575.08 L609.53,574.80 L610.68,574.52 L611.83,574.23 L612.97,573.94 L614.12,573.65 L615.27,573.36 L616.42,573.06 L617.57,572.77 L618.71,572.47 L619.86,572.18 L621.01,571.88 L622.16,571.58 L623.31,571.28 L624.45,570.97 L625.60,570.67 L626.75,570.36 L627.90,570.05 L629.04,569.74 L630.19,569.43 L631.34,569.12 L632.49,568.81 L633.64,568.49 L634.78,568.18 L635.93,567.86 L637.08,567.54 L638.23,567.22 L639.37,566.90 L640.52,566.57 L641.67,566.25 L642.82,565.92 L643.97,565.60 L645.11,565.27 L646.26,564.94 L647.41,564.60 L648.56,564.27 L649.70,563.94 L650.85,563.60 L652.00,563.26" fill="none" stroke="#00008C" stroke-width="3.3" stroke-linejoin="round"/>
<line x1="455.00" y1="601.50" x2="459.00" y2="600.50" stroke="#00008C" stroke-width="3.3" stroke-linecap="butt"/>
<line x1="452.10" y1="596.20" x2="452.10" y2="614.50" stroke="#000" stroke-width="1.3" stroke-linecap="butt"/>
<line x1="448.80" y1="596.20" x2="455.40" y2="596.20" stroke="#000" stroke-width="1.3" stroke-linecap="butt"/>
<line x1="448.80" y1="614.50" x2="455.40" y2="614.50" stroke="#000" stroke-width="1.3" stroke-linecap="butt"/>
<line x1="489.40" y1="579.80" x2="489.40" y2="597.60" stroke="#000" stroke-width="1.3" stroke-linecap="butt"/>
<line x1="486.10" y1="579.80" x2="492.70" y2="579.80" stroke="#000" stroke-width="1.3" stroke-linecap="butt"/>
<line x1="486.10" y1="597.60" x2="492.70" y2="597.60" stroke="#000" stroke-width="1.3" stroke-linecap="butt"/>
<line x1="517.00" y1="579.80" x2="517.00" y2="608.00" stroke="#000" stroke-width="1.3" stroke-linecap="butt"/>
<line x1="513.70" y1="579.80" x2="520.30" y2="579.80" stroke="#000" stroke-width="1.3" stroke-linecap="butt"/>
<line x1="513.70" y1="608.00" x2="520.30" y2="608.00" stroke="#000" stroke-width="1.3" stroke-linecap="butt"/>
<line x1="544.30" y1="588.60" x2="544.30" y2="602.20" stroke="#000" stroke-width="1.3" stroke-linecap="butt"/>
<line x1="541.00" y1="588.60" x2="547.60" y2="588.60" stroke="#000" stroke-width="1.3" stroke-linecap="butt"/>
<line x1="541.00" y1="602.20" x2="547.60" y2="602.20" stroke="#000" stroke-width="1.3" stroke-linecap="butt"/>
<line x1="571.90" y1="575.70" x2="571.90" y2="598.80" stroke="#000" stroke-width="1.3" stroke-linecap="butt"/>
<line x1="568.60" y1="575.70" x2="575.20" y2="575.70" stroke="#000" stroke-width="1.3" stroke-linecap="butt"/>
<line x1="568.60" y1="598.80" x2="575.20" y2="598.80" stroke="#000" stroke-width="1.3" stroke-linecap="butt"/>
<line x1="599.00" y1="567.10" x2="599.00" y2="578.50" stroke="#000" stroke-width="1.3" stroke-linecap="butt"/>
<line x1="595.70" y1="567.10" x2="602.30" y2="567.10" stroke="#000" stroke-width="1.3" stroke-linecap="butt"/>
<line x1="595.70" y1="578.50" x2="602.30" y2="578.50" stroke="#000" stroke-width="1.3" stroke-linecap="butt"/>
<line x1="626.60" y1="571.70" x2="626.60" y2="589.30" stroke="#000" stroke-width="1.3" stroke-linecap="butt"/>
<line x1="623.30" y1="571.70" x2="629.90" y2="571.70" stroke="#000" stroke-width="1.3" stroke-linecap="butt"/>
<line x1="623.30" y1="589.30" x2="629.90" y2="589.30" stroke="#000" stroke-width="1.3" stroke-linecap="butt"/>
<line x1="654.00" y1="551.80" x2="654.00" y2="570.50" stroke="#000" stroke-width="1.3" stroke-linecap="butt"/>
<line x1="650.70" y1="551.80" x2="657.30" y2="551.80" stroke="#000" stroke-width="1.3" stroke-linecap="butt"/>
<line x1="650.70" y1="570.50" x2="657.30" y2="570.50" stroke="#000" stroke-width="1.3" stroke-linecap="butt"/>
<circle cx="452.10" cy="605.80" r="4.10" fill="#00008C" stroke="#fff" stroke-width="2.00" paint-order="stroke"/>
<circle cx="489.40" cy="588.80" r="4.10" fill="#00008C" stroke="#fff" stroke-width="2.00" paint-order="stroke"/>
<circle cx="517.00" cy="594.10" r="4.10" fill="#00008C" stroke="#fff" stroke-width="2.00" paint-order="stroke"/>
<circle cx="544.30" cy="595.40" r="4.10" fill="#00008C" stroke="#fff" stroke-width="2.00" paint-order="stroke"/>
<circle cx="571.90" cy="587.10" r="4.10" fill="#00008C" stroke="#fff" stroke-width="2.00" paint-order="stroke"/>
<circle cx="599.00" cy="572.80" r="4.10" fill="#00008C" stroke="#fff" stroke-width="2.00" paint-order="stroke"/>
<circle cx="626.60" cy="580.70" r="4.10" fill="#00008C" stroke="#fff" stroke-width="2.00" paint-order="stroke"/>
<circle cx="654.00" cy="562.00" r="4.10" fill="#00008C" stroke="#fff" stroke-width="2.00" paint-order="stroke"/>
<text x="1.60" y="715.00" font-size="30.5" font-weight="bold" textLength="18.20" lengthAdjust="spacingAndGlyphs" stroke="#000" stroke-width="0.7" stroke-linejoin="round">E</text>
<text x="174.10" y="716.00" font-size="24" font-weight="bold" textLength="53.30" lengthAdjust="spacingAndGlyphs" stroke="#000" stroke-width="0.7" stroke-linejoin="round">p300</text>
<line x1="77.00" y1="719.70" x2="77.00" y2="953.60" stroke="#000" stroke-width="1.8" stroke-linecap="butt"/>
<line x1="72.00" y1="952.90" x2="77.00" y2="952.90" stroke="#000" stroke-width="1.8" stroke-linecap="butt"/>
<text x="69.30" y="958.90" font-size="19" text-anchor="end" textLength="9.30" lengthAdjust="spacingAndGlyphs" stroke="#000" stroke-width="0.45" stroke-linejoin="round">0</text>
<line x1="72.00" y1="924.20" x2="77.00" y2="924.20" stroke="#000" stroke-width="1.8" stroke-linecap="butt"/>
<text x="69.30" y="930.20" font-size="19" text-anchor="end" textLength="32.00" lengthAdjust="spacingAndGlyphs" stroke="#000" stroke-width="0.45" stroke-linejoin="round">0.05</text>
<line x1="72.00" y1="895.50" x2="77.00" y2="895.50" stroke="#000" stroke-width="1.8" stroke-linecap="butt"/>
<text x="69.30" y="901.50" font-size="19" text-anchor="end" textLength="32.00" lengthAdjust="spacingAndGlyphs" stroke="#000" stroke-width="0.45" stroke-linejoin="round">0.10</text>
<line x1="72.00" y1="866.80" x2="77.00" y2="866.80" stroke="#000" stroke-width="1.8" stroke-linecap="butt"/>
<text x="69.30" y="872.80" font-size="19" text-anchor="end" textLength="32.00" lengthAdjust="spacingAndGlyphs" stroke="#000" stroke-width="0.45" stroke-linejoin="round">0.15</text>
<line x1="72.00" y1="838.10" x2="77.00" y2="838.10" stroke="#000" stroke-width="1.8" stroke-linecap="butt"/>
<text x="69.30" y="844.10" font-size="19" text-anchor="end" textLength="32.00" lengthAdjust="spacingAndGlyphs" stroke="#000" stroke-width="0.45" stroke-linejoin="round">0.20</text>
<line x1="72.00" y1="809.40" x2="77.00" y2="809.40" stroke="#000" stroke-width="1.8" stroke-linecap="butt"/>
<text x="69.30" y="815.40" font-size="19" text-anchor="end" textLength="32.00" lengthAdjust="spacingAndGlyphs" stroke="#000" stroke-width="0.45" stroke-linejoin="round">0.25</text>
<line x1="72.00" y1="780.70" x2="77.00" y2="780.70" stroke="#000" stroke-width="1.8" stroke-linecap="butt"/>
<text x="69.30" y="786.70" font-size="19" text-anchor="end" textLength="32.00" lengthAdjust="spacingAndGlyphs" stroke="#000" stroke-width="0.45" stroke-linejoin="round">0.30</text>
<line x1="72.00" y1="752.00" x2="77.00" y2="752.00" stroke="#000" stroke-width="1.8" stroke-linecap="butt"/>
<text x="69.30" y="758.00" font-size="19" text-anchor="end" textLength="32.00" lengthAdjust="spacingAndGlyphs" stroke="#000" stroke-width="0.45" stroke-linejoin="round">0.35</text>
<text x="25.80" y="901.60" font-size="21" font-weight="bold" textLength="15.30" lengthAdjust="spacingAndGlyphs" transform="rotate(-90 25.80 901.60)" stroke="#000" stroke-width="0.7" stroke-linejoin="round">V</text>
<text x="25.80" y="881.60" font-size="20" textLength="75.00" lengthAdjust="spacingAndGlyphs" transform="rotate(-90 25.80 881.60)" stroke="#000" stroke-width="0.45" stroke-linejoin="round">(μM/min)</text>
<text x="82.20" y="740.30" font-size="18" font-weight="bold" textLength="52.80" lengthAdjust="spacingAndGlyphs" stroke="#000" stroke-width="0.7" stroke-linejoin="round">NDGA</text>
<circle cx="86.60" cy="752.30" r="3.80" fill="#F060F0"/>
<text x="96.30" y="757.70" font-size="16" textLength="31.70" lengthAdjust="spacingAndGlyphs" stroke="#000" stroke-width="0.45" stroke-linejoin="round">0 μM</text>
<circle cx="86.60" cy="767.70" r="3.80" fill="#C8002F"/>
<text x="96.30" y="773.10" font-size="16" textLength="51.40" lengthAdjust="spacingAndGlyphs" stroke="#000" stroke-width="0.45" stroke-linejoin="round">0.74 μM</text>
<circle cx="86.60" cy="782.80" r="3.80" fill="#8C0064"/>
<text x="96.30" y="788.20" font-size="16" textLength="52.10" lengthAdjust="spacingAndGlyphs" stroke="#000" stroke-width="0.45" stroke-linejoin="round">2.20 μM</text>
<line x1="72.00" y1="952.90" x2="320.30" y2="952.90" stroke="#000" stroke-width="1.8" stroke-linecap="butt"/>
<line x1="90.40" y1="952.90" x2="90.40" y2="957.70" stroke="#000" stroke-width="1.8" stroke-linecap="butt"/>
<text x="91.00" y="974.00" font-size="19" text-anchor="middle" textLength="9.80" lengthAdjust="spacingAndGlyphs" stroke="#000" stroke-width="0.45" stroke-linejoin="round">0</text>
<line x1="133.72" y1="952.90" x2="133.72" y2="957.70" stroke="#000" stroke-width="1.8" stroke-linecap="butt"/>
<text x="134.32" y="974.00" font-size="19" text-anchor="middle" textLength="19.60" lengthAdjust="spacingAndGlyphs" stroke="#000" stroke-width="0.45" stroke-linejoin="round">10</text>
<line x1="177.05" y1="952.90" x2="177.05" y2="957.70" stroke="#000" stroke-width="1.8" stroke-linecap="butt"/>
<text x="177.65" y="974.00" font-size="19" text-anchor="middle" textLength="19.60" lengthAdjust="spacingAndGlyphs" stroke="#000" stroke-width="0.45" stroke-linejoin="round">20</text>
<line x1="220.38" y1="952.90" x2="220.38" y2="957.70" stroke="#000" stroke-width="1.8" stroke-linecap="butt"/>
<text x="220.97" y="974.00" font-size="19" text-anchor="middle" textLength="19.60" lengthAdjust="spacingAndGlyphs" stroke="#000" stroke-width="0.45" stroke-linejoin="round">30</text>
<line x1="263.70" y1="952.90" x2="263.70" y2="957.70" stroke="#000" stroke-width="1.8" stroke-linecap="butt"/>
<text x="264.30" y="974.00" font-size="19" text-anchor="middle" textLength="19.60" lengthAdjust="spacingAndGlyphs" stroke="#000" stroke-width="0.45" stroke-linejoin="round">40</text>
<line x1="307.02" y1="952.90" x2="307.02" y2="957.70" stroke="#000" stroke-width="1.8" stroke-linecap="butt"/>
<text x="307.62" y="974.00" font-size="19" text-anchor="middle" textLength="19.60" lengthAdjust="spacingAndGlyphs" stroke="#000" stroke-width="0.45" stroke-linejoin="round">50</text>
<rect x="100.2" y="950" width="3" height="9.8" fill="#000"/>
<text x="145.30" y="995.70" font-size="19.5" font-weight="bold" textLength="63.80" lengthAdjust="spacingAndGlyphs" stroke="#000" stroke-width="0.7" stroke-linejoin="round">AcCoA</text>
<text x="215.00" y="995.70" font-size="18.5" textLength="39.50" lengthAdjust="spacingAndGlyphs" stroke="#000" stroke-width="0.45" stroke-linejoin="round">(μM)</text>
<path d="M91.10,952.90 L92.56,948.11 L94.01,943.74 L95.47,939.73 L96.93,936.05 L98.38,932.66 L99.84,929.52 L101.30,926.60 L102.75,923.89 L104.21,921.36 L105.67,919.00 L107.12,916.78 L108.58,914.70 L110.04,912.74 L111.49,910.90 L112.95,909.16 L114.41,907.51 L115.86,905.95 L117.32,904.47 L118.78,903.07 L120.23,901.73 L121.69,900.46 L123.15,899.25 L124.60,898.09 L126.06,896.98 L127.52,895.93 L128.97,894.92 L130.43,893.95 L131.89,893.02 L133.34,892.13 L134.80,891.27 L136.26,890.44 L137.71,889.65 L139.17,888.89 L140.63,888.15 L142.08,887.44 L143.54,886.76 L145.00,886.10 L146.46,885.46 L147.91,884.85 L149.37,884.25 L150.83,883.67 L152.28,883.11 L153.74,882.57 L155.20,882.05 L156.65,881.54 L158.11,881.05 L159.57,880.57 L161.02,880.11 L162.48,879.65 L163.94,879.22 L165.39,878.79 L166.85,878.37 L168.31,877.97 L169.76,877.58 L171.22,877.20 L172.68,876.82 L174.13,876.46 L175.59,876.11 L177.05,875.76 L178.50,875.43 L179.96,875.10 L181.42,874.78 L182.87,874.47 L184.33,874.16 L185.79,873.87 L187.24,873.57 L188.70,873.29 L190.16,873.01 L191.61,872.74 L193.07,872.47 L194.53,872.21 L195.98,871.96 L197.44,871.71 L198.90,871.47 L200.35,871.23 L201.81,871.00 L203.27,870.77 L204.72,870.54 L206.18,870.32 L207.64,870.11 L209.09,869.90 L210.55,869.69 L212.01,869.49 L213.46,869.29 L214.92,869.09 L216.38,868.90 L217.83,868.71 L219.29,868.53 L220.75,868.35 L222.20,868.17 L223.66,867.99 L225.12,867.82 L226.57,867.65 L228.03,867.49 L229.49,867.32 L230.94,867.16 L232.40,867.01 L233.86,866.85 L235.31,866.70 L236.77,866.55 L238.23,866.40 L239.68,866.26 L241.14,866.12 L242.60,865.98 L244.05,865.84 L245.51,865.70 L246.97,865.57 L248.42,865.44 L249.88,865.31 L251.34,865.18 L252.79,865.05 L254.25,864.93 L255.71,864.81 L257.17,864.69 L258.62,864.57 L260.08,864.45 L261.54,864.34 L262.99,864.23 L264.45,864.11 L265.91,864.00 L267.36,863.90 L268.82,863.79 L270.28,863.68 L271.73,863.58 L273.19,863.48 L274.65,863.38 L276.10,863.28 L277.56,863.18 L279.02,863.08 L280.47,862.98 L281.93,862.89 L283.39,862.80 L284.84,862.70 L286.30,862.61 L287.76,862.52 L289.21,862.43 L290.67,862.35 L292.13,862.26 L293.58,862.18 L295.04,862.09 L296.50,862.01 L297.95,861.93 L299.41,861.84 L300.87,861.76 L302.32,861.68 L303.78,861.61 L305.24,861.53 L306.69,861.45 L308.15,861.38" fill="none" stroke="#F060F0" stroke-width="3.3" stroke-linejoin="round"/>
<path d="M91.10,952.90 L92.56,944.27 L94.01,936.51 L95.47,929.50 L96.93,923.14 L98.38,917.34 L99.84,912.03 L101.30,907.15 L102.75,902.65 L104.21,898.48 L105.67,894.62 L107.12,891.03 L108.58,887.68 L110.04,884.54 L111.49,881.61 L112.95,878.85 L114.41,876.26 L115.86,873.82 L117.32,871.51 L118.78,869.33 L120.23,867.27 L121.69,865.31 L123.15,863.45 L124.60,861.68 L126.06,860.00 L127.52,858.39 L128.97,856.86 L130.43,855.40 L131.89,854.00 L133.34,852.67 L134.80,851.38 L136.26,850.15 L137.71,848.97 L139.17,847.84 L140.63,846.75 L142.08,845.70 L143.54,844.69 L145.00,843.72 L146.46,842.78 L147.91,841.88 L149.37,841.01 L150.83,840.16 L152.28,839.35 L153.74,838.56 L155.20,837.80 L156.65,837.06 L158.11,836.34 L159.57,835.65 L161.02,834.98 L162.48,834.33 L163.94,833.70 L165.39,833.08 L166.85,832.49 L168.31,831.91 L169.76,831.34 L171.22,830.79 L172.68,830.26 L174.13,829.74 L175.59,829.24 L177.05,828.75 L178.50,828.27 L179.96,827.80 L181.42,827.34 L182.87,826.90 L184.33,826.47 L185.79,826.04 L187.24,825.63 L188.70,825.23 L190.16,824.84 L191.61,824.45 L193.07,824.08 L194.53,823.71 L195.98,823.35 L197.44,823.00 L198.90,822.66 L200.35,822.32 L201.81,821.99 L203.27,821.67 L204.72,821.35 L206.18,821.05 L207.64,820.74 L209.09,820.45 L210.55,820.16 L212.01,819.87 L213.46,819.59 L214.92,819.32 L216.38,819.05 L217.83,818.79 L219.29,818.53 L220.75,818.28 L222.20,818.03 L223.66,817.79 L225.12,817.55 L226.57,817.31 L228.03,817.08 L229.49,816.85 L230.94,816.63 L232.40,816.41 L233.86,816.20 L235.31,815.98 L236.77,815.78 L238.23,815.57 L239.68,815.37 L241.14,815.17 L242.60,814.98 L244.05,814.79 L245.51,814.60 L246.97,814.42 L248.42,814.23 L249.88,814.05 L251.34,813.88 L252.79,813.70 L254.25,813.53 L255.71,813.36 L257.17,813.20 L258.62,813.03 L260.08,812.87 L261.54,812.72 L262.99,812.56 L264.45,812.40 L265.91,812.25 L267.36,812.10 L268.82,811.96 L270.28,811.81 L271.73,811.67 L273.19,811.53 L274.65,811.39 L276.10,811.25 L277.56,811.11 L279.02,810.98 L280.47,810.85 L281.93,810.72 L283.39,810.59 L284.84,810.46 L286.30,810.34 L287.76,810.22 L289.21,810.09 L290.67,809.97 L292.13,809.86 L293.58,809.74 L295.04,809.62 L296.50,809.51 L297.95,809.40 L299.41,809.29 L300.87,809.18 L302.32,809.07 L303.78,808.96 L305.24,808.85 L306.69,808.75 L308.15,808.65" fill="none" stroke="#8C0064" stroke-width="3.3" stroke-linejoin="round"/>
<path d="M91.10,952.90 L92.56,941.13 L94.01,930.71 L95.47,921.42 L96.93,913.09 L98.38,905.57 L99.84,898.76 L101.30,892.55 L102.75,886.87 L104.21,881.66 L105.67,876.86 L107.12,872.42 L108.58,868.30 L110.04,864.48 L111.49,860.91 L112.95,857.58 L114.41,854.46 L115.86,851.53 L117.32,848.78 L118.78,846.19 L120.23,843.74 L121.69,841.43 L123.15,839.24 L124.60,837.16 L126.06,835.20 L127.52,833.32 L128.97,831.54 L130.43,829.85 L131.89,828.23 L133.34,826.68 L134.80,825.20 L136.26,823.79 L137.71,822.43 L139.17,821.13 L140.63,819.89 L142.08,818.69 L143.54,817.54 L145.00,816.43 L146.46,815.37 L147.91,814.34 L149.37,813.35 L150.83,812.40 L152.28,811.48 L153.74,810.59 L155.20,809.73 L156.65,808.90 L158.11,808.09 L159.57,807.32 L161.02,806.56 L162.48,805.83 L163.94,805.12 L165.39,804.44 L166.85,803.77 L168.31,803.13 L169.76,802.50 L171.22,801.89 L172.68,801.29 L174.13,800.72 L175.59,800.16 L177.05,799.61 L178.50,799.08 L179.96,798.56 L181.42,798.06 L182.87,797.57 L184.33,797.09 L185.79,796.62 L187.24,796.16 L188.70,795.72 L190.16,795.29 L191.61,794.86 L193.07,794.45 L194.53,794.04 L195.98,793.65 L197.44,793.26 L198.90,792.89 L200.35,792.52 L201.81,792.16 L203.27,791.80 L204.72,791.46 L206.18,791.12 L207.64,790.79 L209.09,790.46 L210.55,790.15 L212.01,789.84 L213.46,789.53 L214.92,789.23 L216.38,788.94 L217.83,788.65 L219.29,788.37 L220.75,788.09 L222.20,787.82 L223.66,787.56 L225.12,787.30 L226.57,787.04 L228.03,786.79 L229.49,786.54 L230.94,786.30 L232.40,786.06 L233.86,785.83 L235.31,785.60 L236.77,785.37 L238.23,785.15 L239.68,784.93 L241.14,784.72 L242.60,784.50 L244.05,784.30 L245.51,784.09 L246.97,783.89 L248.42,783.70 L249.88,783.50 L251.34,783.31 L252.79,783.12 L254.25,782.94 L255.71,782.75 L257.17,782.57 L258.62,782.40 L260.08,782.22 L261.54,782.05 L262.99,781.88 L264.45,781.72 L265.91,781.55 L267.36,781.39 L268.82,781.23 L270.28,781.08 L271.73,780.92 L273.19,780.77 L274.65,780.62 L276.10,780.47 L277.56,780.32 L279.02,780.18 L280.47,780.04 L281.93,779.90 L283.39,779.76 L284.84,779.62 L286.30,779.49 L287.76,779.36 L289.21,779.23 L290.67,779.10 L292.13,778.97 L293.58,778.84 L295.04,778.72 L296.50,778.60 L297.95,778.47 L299.41,778.35 L300.87,778.24 L302.32,778.12 L303.78,778.00 L305.24,777.89 L306.69,777.78 L308.15,777.67" fill="none" stroke="#C8002F" stroke-width="3.3" stroke-linejoin="round"/>
<line x1="145.36" y1="813.50" x2="145.36" y2="825.50" stroke="#000" stroke-width="1.3" stroke-linecap="butt"/>
<line x1="142.06" y1="813.50" x2="148.66" y2="813.50" stroke="#000" stroke-width="1.3" stroke-linecap="butt"/>
<line x1="142.06" y1="825.50" x2="148.66" y2="825.50" stroke="#000" stroke-width="1.3" stroke-linecap="butt"/>
<line x1="199.62" y1="817.10" x2="199.62" y2="831.30" stroke="#000" stroke-width="1.3" stroke-linecap="butt"/>
<line x1="196.32" y1="817.10" x2="202.93" y2="817.10" stroke="#000" stroke-width="1.3" stroke-linecap="butt"/>
<line x1="196.32" y1="831.30" x2="202.93" y2="831.30" stroke="#000" stroke-width="1.3" stroke-linecap="butt"/>
<line x1="308.15" y1="795.80" x2="308.15" y2="810.50" stroke="#000" stroke-width="1.3" stroke-linecap="butt"/>
<line x1="304.85" y1="795.80" x2="311.45" y2="795.80" stroke="#000" stroke-width="1.3" stroke-linecap="butt"/>
<line x1="304.85" y1="810.50" x2="311.45" y2="810.50" stroke="#000" stroke-width="1.3" stroke-linecap="butt"/>
<line x1="199.62" y1="860.40" x2="199.62" y2="878.40" stroke="#000" stroke-width="1.3" stroke-linecap="butt"/>
<line x1="196.32" y1="860.40" x2="202.93" y2="860.40" stroke="#000" stroke-width="1.3" stroke-linecap="butt"/>
<line x1="196.32" y1="878.40" x2="202.93" y2="878.40" stroke="#000" stroke-width="1.3" stroke-linecap="butt"/>
<line x1="308.15" y1="855.00" x2="308.15" y2="867.40" stroke="#000" stroke-width="1.3" stroke-linecap="butt"/>
<line x1="304.85" y1="855.00" x2="311.45" y2="855.00" stroke="#000" stroke-width="1.3" stroke-linecap="butt"/>
<line x1="304.85" y1="867.40" x2="311.45" y2="867.40" stroke="#000" stroke-width="1.3" stroke-linecap="butt"/>
<circle cx="94.49" cy="921.30" r="4.10" fill="#C8002F" stroke="#fff" stroke-width="2.00" paint-order="stroke"/>
<circle cx="97.87" cy="907.80" r="4.10" fill="#C8002F" stroke="#fff" stroke-width="2.00" paint-order="stroke"/>
<circle cx="104.67" cy="882.60" r="4.10" fill="#C8002F" stroke="#fff" stroke-width="2.00" paint-order="stroke"/>
<circle cx="118.23" cy="846.20" r="4.10" fill="#C8002F" stroke="#fff" stroke-width="2.00" paint-order="stroke"/>
<circle cx="145.36" cy="819.40" r="4.10" fill="#C8002F" stroke="#fff" stroke-width="2.00" paint-order="stroke"/>
<circle cx="199.62" cy="791.50" r="4.10" fill="#C8002F" stroke="#fff" stroke-width="2.00" paint-order="stroke"/>
<circle cx="308.15" cy="776.10" r="4.10" fill="#C8002F" stroke="#fff" stroke-width="2.00" paint-order="stroke"/>
<circle cx="94.49" cy="929.40" r="4.10" fill="#8C0064" stroke="#fff" stroke-width="2.00" paint-order="stroke"/>
<circle cx="97.87" cy="915.30" r="4.10" fill="#8C0064" stroke="#fff" stroke-width="2.00" paint-order="stroke"/>
<circle cx="104.67" cy="900.90" r="4.10" fill="#8C0064" stroke="#fff" stroke-width="2.00" paint-order="stroke"/>
<circle cx="118.23" cy="868.40" r="4.10" fill="#8C0064" stroke="#fff" stroke-width="2.00" paint-order="stroke"/>
<circle cx="145.36" cy="847.40" r="4.10" fill="#8C0064" stroke="#fff" stroke-width="2.00" paint-order="stroke"/>
<circle cx="199.62" cy="823.60" r="4.10" fill="#8C0064" stroke="#fff" stroke-width="2.00" paint-order="stroke"/>
<circle cx="308.15" cy="803.30" r="4.10" fill="#8C0064" stroke="#fff" stroke-width="2.00" paint-order="stroke"/>
<circle cx="91.10" cy="950.10" r="4.10" fill="#F060F0" stroke="#fff" stroke-width="2.00" paint-order="stroke"/>
<circle cx="94.49" cy="940.80" r="4.10" fill="#F060F0" stroke="#fff" stroke-width="2.00" paint-order="stroke"/>
<circle cx="97.87" cy="933.90" r="4.10" fill="#F060F0" stroke="#fff" stroke-width="2.00" paint-order="stroke"/>
<circle cx="104.67" cy="923.70" r="4.10" fill="#F060F0" stroke="#fff" stroke-width="2.00" paint-order="stroke"/>
<circle cx="118.23" cy="903.00" r="4.10" fill="#F060F0" stroke="#fff" stroke-width="2.00" paint-order="stroke"/>
<circle cx="145.36" cy="885.00" r="4.10" fill="#F060F0" stroke="#fff" stroke-width="2.00" paint-order="stroke"/>
<circle cx="199.62" cy="869.00" r="4.10" fill="#F060F0" stroke="#fff" stroke-width="2.00" paint-order="stroke"/>
<circle cx="308.15" cy="861.50" r="4.10" fill="#F060F0" stroke="#fff" stroke-width="2.00" paint-order="stroke"/>
<text x="351.50" y="716.00" font-size="30.5" font-weight="bold" textLength="18.00" lengthAdjust="spacingAndGlyphs" stroke="#000" stroke-width="0.7" stroke-linejoin="round">F</text>
<text x="534.30" y="714.10" font-size="24" font-weight="bold" textLength="54.00" lengthAdjust="spacingAndGlyphs" stroke="#000" stroke-width="0.7" stroke-linejoin="round">p300</text>
<line x1="437.00" y1="718.30" x2="437.00" y2="952.30" stroke="#000" stroke-width="1.8" stroke-linecap="butt"/>
<line x1="432.30" y1="951.60" x2="437.00" y2="951.60" stroke="#000" stroke-width="1.8" stroke-linecap="butt"/>
<text x="429.80" y="957.60" font-size="19" text-anchor="end" textLength="9.30" lengthAdjust="spacingAndGlyphs" stroke="#000" stroke-width="0.45" stroke-linejoin="round">0</text>
<line x1="432.30" y1="923.00" x2="437.00" y2="923.00" stroke="#000" stroke-width="1.8" stroke-linecap="butt"/>
<text x="429.80" y="929.00" font-size="19" text-anchor="end" textLength="23.50" lengthAdjust="spacingAndGlyphs" stroke="#000" stroke-width="0.45" stroke-linejoin="round">0.1</text>
<line x1="432.30" y1="894.40" x2="437.00" y2="894.40" stroke="#000" stroke-width="1.8" stroke-linecap="butt"/>
<text x="429.80" y="900.40" font-size="19" text-anchor="end" textLength="23.50" lengthAdjust="spacingAndGlyphs" stroke="#000" stroke-width="0.45" stroke-linejoin="round">0.2</text>
<line x1="432.30" y1="865.80" x2="437.00" y2="865.80" stroke="#000" stroke-width="1.8" stroke-linecap="butt"/>
<text x="429.80" y="871.80" font-size="19" text-anchor="end" textLength="23.50" lengthAdjust="spacingAndGlyphs" stroke="#000" stroke-width="0.45" stroke-linejoin="round">0.3</text>
<line x1="432.30" y1="837.20" x2="437.00" y2="837.20" stroke="#000" stroke-width="1.8" stroke-linecap="butt"/>
<text x="429.80" y="843.20" font-size="19" text-anchor="end" textLength="23.50" lengthAdjust="spacingAndGlyphs" stroke="#000" stroke-width="0.45" stroke-linejoin="round">0.4</text>
<line x1="432.30" y1="808.60" x2="437.00" y2="808.60" stroke="#000" stroke-width="1.8" stroke-linecap="butt"/>
<text x="429.80" y="814.60" font-size="19" text-anchor="end" textLength="23.50" lengthAdjust="spacingAndGlyphs" stroke="#000" stroke-width="0.45" stroke-linejoin="round">0.5</text>
<line x1="432.30" y1="780.00" x2="437.00" y2="780.00" stroke="#000" stroke-width="1.8" stroke-linecap="butt"/>
<text x="429.80" y="786.00" font-size="19" text-anchor="end" textLength="23.50" lengthAdjust="spacingAndGlyphs" stroke="#000" stroke-width="0.45" stroke-linejoin="round">0.6</text>
<line x1="432.30" y1="751.40" x2="437.00" y2="751.40" stroke="#000" stroke-width="1.8" stroke-linecap="butt"/>
<text x="429.80" y="757.40" font-size="19" text-anchor="end" textLength="23.50" lengthAdjust="spacingAndGlyphs" stroke="#000" stroke-width="0.45" stroke-linejoin="round">0.7</text>
<text x="385.70" y="901.00" font-size="21" font-weight="bold" textLength="15.00" lengthAdjust="spacingAndGlyphs" transform="rotate(-90 385.70 901.00)" stroke="#000" stroke-width="0.7" stroke-linejoin="round">V</text>
<text x="385.70" y="881.00" font-size="20" textLength="75.00" lengthAdjust="spacingAndGlyphs" transform="rotate(-90 385.70 881.00)" stroke="#000" stroke-width="0.45" stroke-linejoin="round">(μM/min)</text>
<text x="443.00" y="739.30" font-size="18" font-weight="bold" textLength="52.10" lengthAdjust="spacingAndGlyphs" stroke="#000" stroke-width="0.7" stroke-linejoin="round">NDGA</text>
<circle cx="447.00" cy="751.80" r="3.80" fill="#F060F0"/>
<text x="456.40" y="757.00" font-size="16" textLength="31.40" lengthAdjust="spacingAndGlyphs" stroke="#000" stroke-width="0.45" stroke-linejoin="round">0 μM</text>
<circle cx="447.00" cy="767.20" r="3.80" fill="#C8002F"/>
<text x="456.40" y="772.40" font-size="16" textLength="51.10" lengthAdjust="spacingAndGlyphs" stroke="#000" stroke-width="0.45" stroke-linejoin="round">0.74 μM</text>
<circle cx="447.00" cy="782.50" r="3.80" fill="#8C0064"/>
<text x="456.40" y="787.70" font-size="16" textLength="51.90" lengthAdjust="spacingAndGlyphs" stroke="#000" stroke-width="0.45" stroke-linejoin="round">2.20 μM</text>
<line x1="432.80" y1="951.60" x2="682.10" y2="951.60" stroke="#000" stroke-width="1.8" stroke-linecap="butt"/>
<line x1="450.40" y1="951.60" x2="450.40" y2="956.40" stroke="#000" stroke-width="1.8" stroke-linecap="butt"/>
<text x="450.90" y="972.80" font-size="19" text-anchor="middle" textLength="9.80" lengthAdjust="spacingAndGlyphs" stroke="#000" stroke-width="0.45" stroke-linejoin="round">0</text>
<line x1="493.74" y1="951.60" x2="493.74" y2="956.40" stroke="#000" stroke-width="1.8" stroke-linecap="butt"/>
<text x="494.24" y="972.80" font-size="19" text-anchor="middle" textLength="19.60" lengthAdjust="spacingAndGlyphs" stroke="#000" stroke-width="0.45" stroke-linejoin="round">40</text>
<line x1="537.08" y1="951.60" x2="537.08" y2="956.40" stroke="#000" stroke-width="1.8" stroke-linecap="butt"/>
<text x="537.58" y="972.80" font-size="19" text-anchor="middle" textLength="19.60" lengthAdjust="spacingAndGlyphs" stroke="#000" stroke-width="0.45" stroke-linejoin="round">80</text>
<line x1="580.42" y1="951.60" x2="580.42" y2="956.40" stroke="#000" stroke-width="1.8" stroke-linecap="butt"/>
<text x="580.92" y="972.80" font-size="19" text-anchor="middle" textLength="29.40" lengthAdjust="spacingAndGlyphs" stroke="#000" stroke-width="0.45" stroke-linejoin="round">120</text>
<line x1="623.76" y1="951.60" x2="623.76" y2="956.40" stroke="#000" stroke-width="1.8" stroke-linecap="butt"/>
<text x="624.26" y="972.80" font-size="19" text-anchor="middle" textLength="29.40" lengthAdjust="spacingAndGlyphs" stroke="#000" stroke-width="0.45" stroke-linejoin="round">160</text>
<line x1="667.10" y1="951.60" x2="667.10" y2="956.40" stroke="#000" stroke-width="1.8" stroke-linecap="butt"/>
<text x="667.60" y="972.80" font-size="19" text-anchor="middle" textLength="29.40" lengthAdjust="spacingAndGlyphs" stroke="#000" stroke-width="0.45" stroke-linejoin="round">200</text>
<text x="496.30" y="995.50" font-size="19.5" font-weight="bold" textLength="83.40" lengthAdjust="spacingAndGlyphs" stroke="#000" stroke-width="0.7" stroke-linejoin="round">H3 (1–21)</text>
<text x="585.40" y="995.50" font-size="18.5" textLength="38.40" lengthAdjust="spacingAndGlyphs" stroke="#000" stroke-width="0.45" stroke-linejoin="round">(μM)</text>
<path d="M450.90,951.60 L451.99,949.27 L453.09,946.97 L454.18,944.71 L455.28,942.49 L456.37,940.30 L457.46,938.14 L458.56,936.01 L459.65,933.91 L460.75,931.84 L461.84,929.80 L462.93,927.79 L464.03,925.81 L465.12,923.86 L466.22,921.94 L467.31,920.04 L468.40,918.17 L469.50,916.32 L470.59,914.50 L471.69,912.70 L472.78,910.93 L473.87,909.18 L474.97,907.45 L476.06,905.75 L477.16,904.07 L478.25,902.41 L479.34,900.77 L480.44,899.15 L481.53,897.55 L482.63,895.98 L483.72,894.42 L484.81,892.88 L485.91,891.37 L487.00,889.87 L488.09,888.39 L489.19,886.92 L490.28,885.48 L491.38,884.05 L492.47,882.64 L493.56,881.24 L494.66,879.87 L495.75,878.50 L496.85,877.16 L497.94,875.83 L499.03,874.51 L500.13,873.21 L501.22,871.93 L502.32,870.66 L503.41,869.40 L504.50,868.16 L505.60,866.93 L506.69,865.72 L507.79,864.52 L508.88,863.33 L509.97,862.16 L511.07,861.00 L512.16,859.85 L513.26,858.71 L514.35,857.58 L515.44,856.47 L516.54,855.37 L517.63,854.28 L518.73,853.20 L519.82,852.13 L520.91,851.08 L522.01,850.03 L523.10,849.00 L524.20,847.98 L525.29,846.96 L526.38,845.96 L527.48,844.97 L528.57,843.98 L529.67,843.01 L530.76,842.04 L531.85,841.09 L532.95,840.15 L534.04,839.21 L535.14,838.28 L536.23,837.36 L537.32,836.46 L538.42,835.56 L539.51,834.66 L540.61,833.78 L541.70,832.91 L542.79,832.04 L543.89,831.18 L544.98,830.33 L546.08,829.49 L547.17,828.65 L548.26,827.82 L549.36,827.00 L550.45,826.19 L551.55,825.39 L552.64,824.59 L553.73,823.80 L554.83,823.01 L555.92,822.24 L557.02,821.47 L558.11,820.70 L559.20,819.95 L560.30,819.20 L561.39,818.46 L562.48,817.72 L563.58,816.99 L564.67,816.26 L565.77,815.55 L566.86,814.83 L567.95,814.13 L569.05,813.43 L570.14,812.73 L571.24,812.05 L572.33,811.36 L573.42,810.69 L574.52,810.01 L575.61,809.35 L576.71,808.69 L577.80,808.03 L578.89,807.38 L579.99,806.74 L581.08,806.10 L582.18,805.47 L583.27,804.84 L584.36,804.21 L585.46,803.59 L586.55,802.98 L587.65,802.37 L588.74,801.77 L589.83,801.17 L590.93,800.57 L592.02,799.98 L593.12,799.39 L594.21,798.81 L595.30,798.24 L596.40,797.66 L597.49,797.09 L598.59,796.53 L599.68,795.97 L600.77,795.42 L601.87,794.86 L602.96,794.32 L604.06,793.77 L605.15,793.23 L606.24,792.70 L607.34,792.17 L608.43,791.64 L609.53,791.12 L610.62,790.60 L611.71,790.08 L612.81,789.57 L613.90,789.06 L615.00,788.56 L616.09,788.05 L617.18,787.56 L618.28,787.06 L619.37,786.57 L620.47,786.08 L621.56,785.60 L622.65,785.12 L623.75,784.64 L624.84,784.17 L625.94,783.70 L627.03,783.23 L628.12,782.77 L629.22,782.31 L630.31,781.85 L631.41,781.39 L632.50,780.94 L633.59,780.49 L634.69,780.05 L635.78,779.61 L636.87,779.17 L637.97,778.73 L639.06,778.30 L640.16,777.86 L641.25,777.44 L642.34,777.01 L643.44,776.59 L644.53,776.17 L645.63,775.75 L646.72,775.34 L647.81,774.93 L648.91,774.52 L650.00,774.11 L651.10,773.71 L652.19,773.31 L653.28,772.91 L654.38,772.51 L655.47,772.12 L656.57,771.73 L657.66,771.34 L658.75,770.95 L659.85,770.57 L660.94,770.19 L662.04,769.81 L663.13,769.43 L664.22,769.06 L665.32,768.68 L666.41,768.32 L667.51,767.95 L668.60,767.58" fill="none" stroke="#F060F0" stroke-width="3.3" stroke-linejoin="round"/>
<path d="M450.90,951.60 L451.99,949.92 L453.09,948.30 L454.18,946.73 L455.28,945.20 L456.37,943.73 L457.46,942.30 L458.56,940.91 L459.65,939.56 L460.75,938.26 L461.84,936.99 L462.93,935.75 L464.03,934.55 L465.12,933.39 L466.22,932.25 L467.31,931.15 L468.40,930.07 L469.50,929.03 L470.59,928.01 L471.69,927.01 L472.78,926.04 L473.87,925.10 L474.97,924.18 L476.06,923.28 L477.16,922.40 L478.25,921.54 L479.34,920.71 L480.44,919.89 L481.53,919.09 L482.63,918.31 L483.72,917.54 L484.81,916.80 L485.91,916.07 L487.00,915.35 L488.09,914.65 L489.19,913.97 L490.28,913.30 L491.38,912.64 L492.47,912.00 L493.56,911.37 L494.66,910.75 L495.75,910.14 L496.85,909.55 L497.94,908.97 L499.03,908.40 L500.13,907.84 L501.22,907.29 L502.32,906.75 L503.41,906.22 L504.50,905.70 L505.60,905.19 L506.69,904.69 L507.79,904.20 L508.88,903.72 L509.97,903.24 L511.07,902.78 L512.16,902.32 L513.26,901.87 L514.35,901.43 L515.44,900.99 L516.54,900.56 L517.63,900.14 L518.73,899.73 L519.82,899.32 L520.91,898.92 L522.01,898.53 L523.10,898.14 L524.20,897.76 L525.29,897.38 L526.38,897.01 L527.48,896.65 L528.57,896.29 L529.67,895.94 L530.76,895.59 L531.85,895.25 L532.95,894.91 L534.04,894.58 L535.14,894.25 L536.23,893.93 L537.32,893.61 L538.42,893.30 L539.51,892.99 L540.61,892.68 L541.70,892.38 L542.79,892.09 L543.89,891.80 L544.98,891.51 L546.08,891.22 L547.17,890.94 L548.26,890.67 L549.36,890.39 L550.45,890.12 L551.55,889.86 L552.64,889.60 L553.73,889.34 L554.83,889.08 L555.92,888.83 L557.02,888.58 L558.11,888.33 L559.20,888.09 L560.30,887.85 L561.39,887.62 L562.48,887.38 L563.58,887.15 L564.67,886.92 L565.77,886.70 L566.86,886.47 L567.95,886.25 L569.05,886.04 L570.14,885.82 L571.24,885.61 L572.33,885.40 L573.42,885.19 L574.52,884.99 L575.61,884.79 L576.71,884.59 L577.80,884.39 L578.89,884.19 L579.99,884.00 L581.08,883.81 L582.18,883.62 L583.27,883.43 L584.36,883.25 L585.46,883.06 L586.55,882.88 L587.65,882.70 L588.74,882.53 L589.83,882.35 L590.93,882.18 L592.02,882.01 L593.12,881.84 L594.21,881.67 L595.30,881.50 L596.40,881.34 L597.49,881.18 L598.59,881.01 L599.68,880.86 L600.77,880.70 L601.87,880.54 L602.96,880.39 L604.06,880.23 L605.15,880.08 L606.24,879.93 L607.34,879.78 L608.43,879.64 L609.53,879.49 L610.62,879.35 L611.71,879.20 L612.81,879.06 L613.90,878.92 L615.00,878.78 L616.09,878.65 L617.18,878.51 L618.28,878.37 L619.37,878.24 L620.47,878.11 L621.56,877.98 L622.65,877.85 L623.75,877.72 L624.84,877.59 L625.94,877.46 L627.03,877.34 L628.12,877.22 L629.22,877.09 L630.31,876.97 L631.41,876.85 L632.50,876.73 L633.59,876.61 L634.69,876.49 L635.78,876.38 L636.87,876.26 L637.97,876.15 L639.06,876.03 L640.16,875.92 L641.25,875.81 L642.34,875.70 L643.44,875.59 L644.53,875.48 L645.63,875.37 L646.72,875.26 L647.81,875.16 L648.91,875.05 L650.00,874.95 L651.10,874.85 L652.19,874.74 L653.28,874.64 L654.38,874.54 L655.47,874.44 L656.57,874.34 L657.66,874.24 L658.75,874.14 L659.85,874.05 L660.94,873.95 L662.04,873.85 L663.13,873.76 L664.22,873.67 L665.32,873.57 L666.41,873.48 L667.51,873.39 L668.60,873.30" fill="none" stroke="#C8002F" stroke-width="3.3" stroke-linejoin="round"/>
<path d="M450.90,951.60 L451.99,949.73 L453.09,948.34 L454.18,947.28 L455.28,946.44 L456.37,945.76 L457.46,945.20 L458.56,944.72 L459.65,944.32 L460.75,943.97 L461.84,943.66 L462.93,943.39 L464.03,943.16 L465.12,942.94 L466.22,942.75 L467.31,942.58 L468.40,942.42 L469.50,942.28 L470.59,942.15 L471.69,942.03 L472.78,941.92 L473.87,941.82 L474.97,941.72 L476.06,941.64 L477.16,941.55 L478.25,941.48 L479.34,941.41 L480.44,941.34 L481.53,941.27 L482.63,941.21 L483.72,941.16 L484.81,941.10 L485.91,941.05 L487.00,941.01 L488.09,940.96 L489.19,940.92 L490.28,940.88 L491.38,940.84 L492.47,940.80 L493.56,940.76 L494.66,940.73 L495.75,940.70 L496.85,940.67 L497.94,940.64 L499.03,940.61 L500.13,940.58 L501.22,940.55 L502.32,940.53 L503.41,940.50 L504.50,940.48 L505.60,940.46 L506.69,940.43 L507.79,940.41 L508.88,940.39 L509.97,940.37 L511.07,940.35 L512.16,940.33 L513.26,940.32 L514.35,940.30 L515.44,940.28 L516.54,940.26 L517.63,940.25 L518.73,940.23 L519.82,940.22 L520.91,940.20 L522.01,940.19 L523.10,940.18 L524.20,940.16 L525.29,940.15 L526.38,940.14 L527.48,940.12 L528.57,940.11 L529.67,940.10 L530.76,940.09 L531.85,940.08 L532.95,940.07 L534.04,940.06 L535.14,940.05 L536.23,940.04 L537.32,940.03 L538.42,940.02 L539.51,940.01 L540.61,940.00 L541.70,939.99 L542.79,939.98 L543.89,939.97 L544.98,939.96 L546.08,939.96 L547.17,939.95 L548.26,939.94 L549.36,939.93 L550.45,939.92 L551.55,939.92 L552.64,939.91 L553.73,939.90 L554.83,939.90 L555.92,939.89 L557.02,939.88 L558.11,939.88 L559.20,939.87 L560.30,939.86 L561.39,939.86 L562.48,939.85 L563.58,939.84 L564.67,939.84 L565.77,939.83 L566.86,939.83 L567.95,939.82 L569.05,939.82 L570.14,939.81 L571.24,939.81 L572.33,939.80 L573.42,939.80 L574.52,939.79 L575.61,939.79 L576.71,939.78 L577.80,939.78 L578.89,939.77 L579.99,939.77 L581.08,939.76 L582.18,939.76 L583.27,939.75 L584.36,939.75 L585.46,939.75 L586.55,939.74 L587.65,939.74 L588.74,939.73 L589.83,939.73 L590.93,939.72 L592.02,939.72 L593.12,939.72 L594.21,939.71 L595.30,939.71 L596.40,939.71 L597.49,939.70 L598.59,939.70 L599.68,939.70 L600.77,939.69 L601.87,939.69 L602.96,939.69 L604.06,939.68 L605.15,939.68 L606.24,939.68 L607.34,939.67 L608.43,939.67 L609.53,939.67 L610.62,939.66 L611.71,939.66 L612.81,939.66 L613.90,939.65 L615.00,939.65 L616.09,939.65 L617.18,939.65 L618.28,939.64 L619.37,939.64 L620.47,939.64 L621.56,939.63 L622.65,939.63 L623.75,939.63 L624.84,939.63 L625.94,939.62 L627.03,939.62 L628.12,939.62 L629.22,939.62 L630.31,939.61 L631.41,939.61 L632.50,939.61 L633.59,939.61 L634.69,939.60 L635.78,939.60 L636.87,939.60 L637.97,939.60 L639.06,939.60 L640.16,939.59 L641.25,939.59 L642.34,939.59 L643.44,939.59 L644.53,939.59 L645.63,939.58 L646.72,939.58 L647.81,939.58 L648.91,939.58 L650.00,939.57 L651.10,939.57 L652.19,939.57 L653.28,939.57 L654.38,939.57 L655.47,939.57 L656.57,939.56 L657.66,939.56 L658.75,939.56 L659.85,939.56 L660.94,939.56 L662.04,939.55 L663.13,939.55 L664.22,939.55 L665.32,939.55 L666.41,939.55 L667.51,939.55 L668.60,939.54" fill="none" stroke="#8C0064" stroke-width="3.3" stroke-linejoin="round"/>
<line x1="559.80" y1="817.40" x2="559.80" y2="828.60" stroke="#000" stroke-width="1.3" stroke-linecap="butt"/>
<line x1="556.50" y1="817.40" x2="563.10" y2="817.40" stroke="#000" stroke-width="1.3" stroke-linecap="butt"/>
<line x1="556.50" y1="828.60" x2="563.10" y2="828.60" stroke="#000" stroke-width="1.3" stroke-linecap="butt"/>
<line x1="668.60" y1="754.30" x2="668.60" y2="776.90" stroke="#000" stroke-width="1.3" stroke-linecap="butt"/>
<line x1="665.30" y1="754.30" x2="671.90" y2="754.30" stroke="#000" stroke-width="1.3" stroke-linecap="butt"/>
<line x1="665.30" y1="776.90" x2="671.90" y2="776.90" stroke="#000" stroke-width="1.3" stroke-linecap="butt"/>
<circle cx="454.30" cy="938.00" r="4.10" fill="#F060F0" stroke="#fff" stroke-width="2.00" paint-order="stroke"/>
<circle cx="457.70" cy="929.90" r="4.10" fill="#F060F0" stroke="#fff" stroke-width="2.00" paint-order="stroke"/>
<circle cx="464.51" cy="919.90" r="4.10" fill="#F060F0" stroke="#fff" stroke-width="2.00" paint-order="stroke"/>
<circle cx="478.11" cy="904.70" r="4.10" fill="#F060F0" stroke="#fff" stroke-width="2.00" paint-order="stroke"/>
<circle cx="505.32" cy="868.40" r="4.10" fill="#F060F0" stroke="#fff" stroke-width="2.00" paint-order="stroke"/>
<circle cx="559.75" cy="823.10" r="4.10" fill="#F060F0" stroke="#fff" stroke-width="2.00" paint-order="stroke"/>
<circle cx="668.60" cy="765.70" r="4.10" fill="#F060F0" stroke="#fff" stroke-width="2.00" paint-order="stroke"/>
<circle cx="454.30" cy="944.00" r="4.10" fill="#C8002F" stroke="#fff" stroke-width="2.00" paint-order="stroke"/>
<circle cx="457.70" cy="939.50" r="4.10" fill="#C8002F" stroke="#fff" stroke-width="2.00" paint-order="stroke"/>
<circle cx="464.51" cy="932.80" r="4.10" fill="#C8002F" stroke="#fff" stroke-width="2.00" paint-order="stroke"/>
<circle cx="478.11" cy="922.00" r="4.10" fill="#C8002F" stroke="#fff" stroke-width="2.00" paint-order="stroke"/>
<circle cx="505.32" cy="906.40" r="4.10" fill="#C8002F" stroke="#fff" stroke-width="2.00" paint-order="stroke"/>
<circle cx="559.75" cy="889.90" r="4.10" fill="#C8002F" stroke="#fff" stroke-width="2.00" paint-order="stroke"/>
<circle cx="668.60" cy="872.30" r="4.10" fill="#C8002F" stroke="#fff" stroke-width="2.00" paint-order="stroke"/>
<circle cx="450.90" cy="945.50" r="4.10" fill="#8C0064" stroke="#fff" stroke-width="2.00" paint-order="stroke"/>
<circle cx="454.30" cy="945.70" r="4.10" fill="#8C0064" stroke="#fff" stroke-width="2.00" paint-order="stroke"/>
<circle cx="457.70" cy="944.80" r="4.10" fill="#8C0064" stroke="#fff" stroke-width="2.00" paint-order="stroke"/>
<circle cx="464.51" cy="943.30" r="4.10" fill="#8C0064" stroke="#fff" stroke-width="2.00" paint-order="stroke"/>
<circle cx="478.11" cy="943.60" r="4.10" fill="#8C0064" stroke="#fff" stroke-width="2.00" paint-order="stroke"/>
<circle cx="505.32" cy="941.40" r="4.10" fill="#8C0064" stroke="#fff" stroke-width="2.00" paint-order="stroke"/>
<circle cx="559.75" cy="940.40" r="4.10" fill="#8C0064" stroke="#fff" stroke-width="2.00" paint-order="stroke"/>
<circle cx="668.60" cy="937.40" r="4.10" fill="#8C0064" stroke="#fff" stroke-width="2.00" paint-order="stroke"/>
</svg></body></html>
